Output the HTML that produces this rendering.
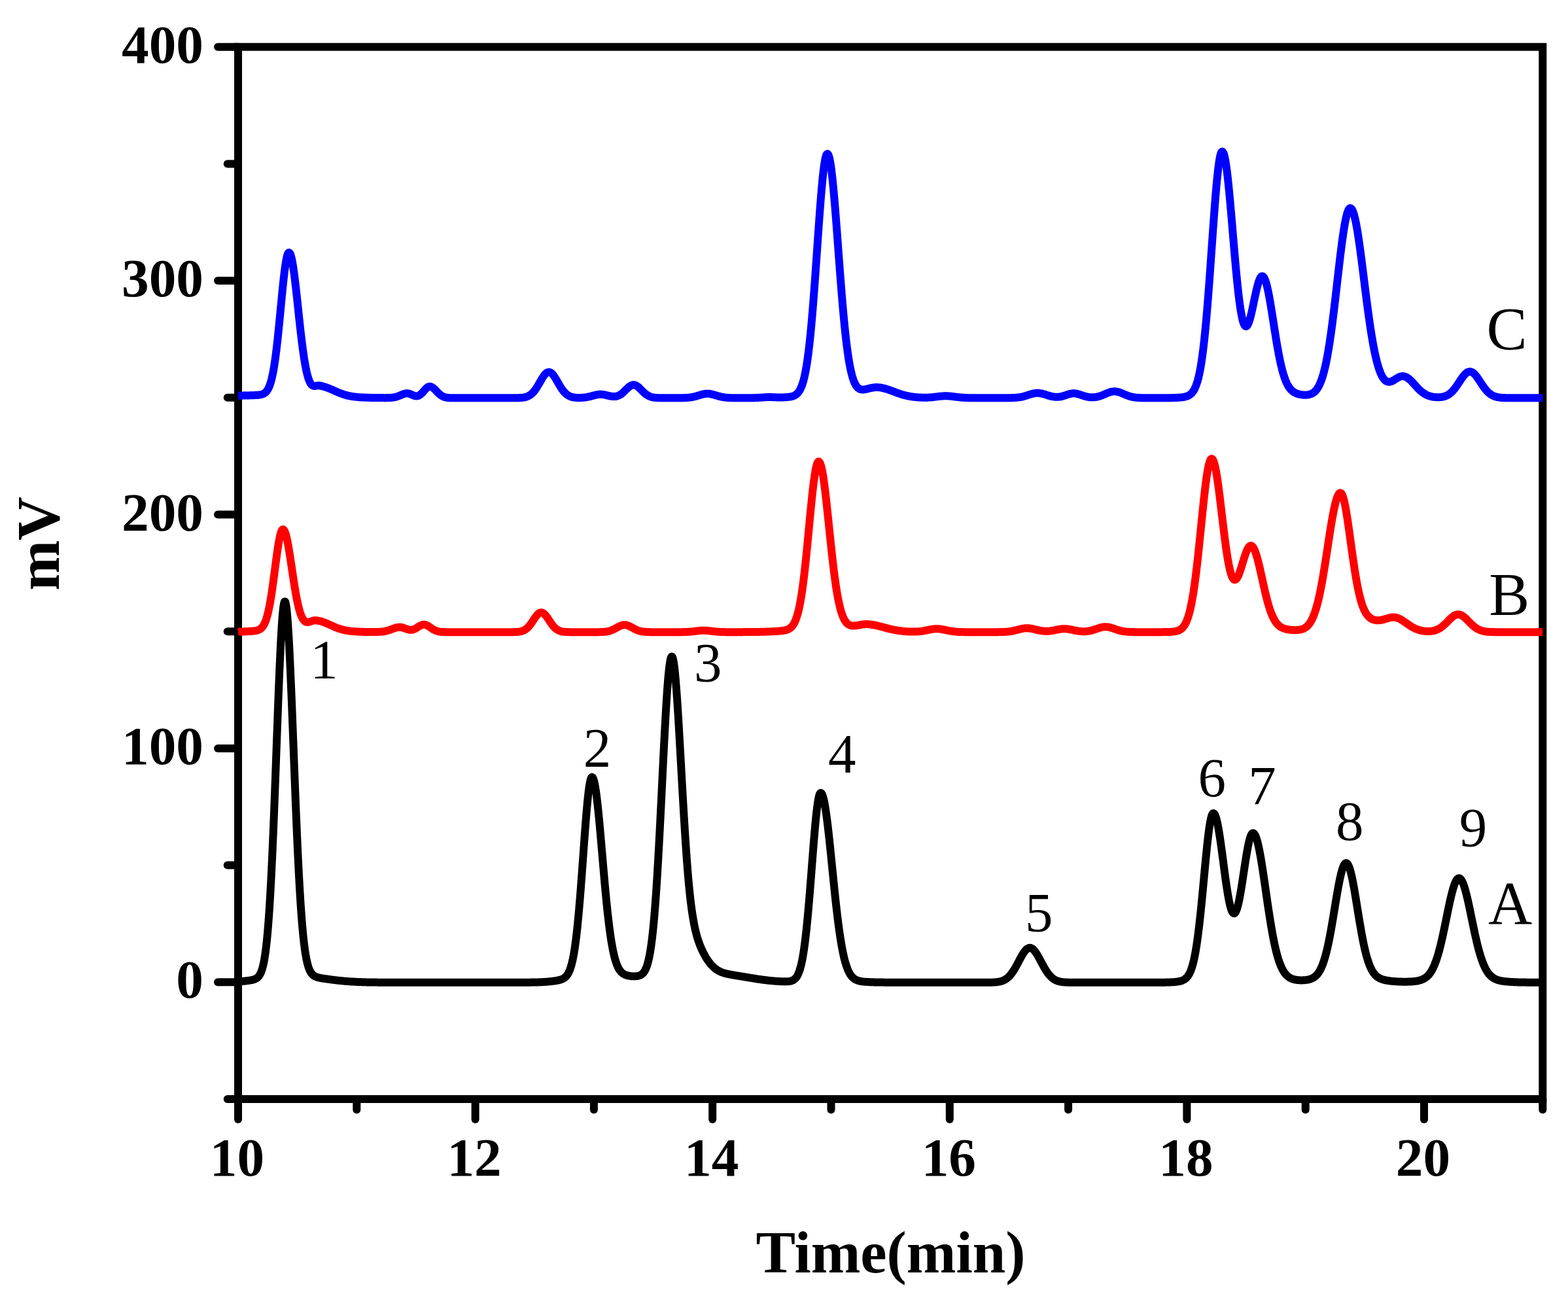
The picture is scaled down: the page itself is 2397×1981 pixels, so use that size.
<!DOCTYPE html>
<html lang="en"><head><meta charset="utf-8"><title>Chromatogram</title>
<style>html,body{margin:0;padding:0;background:#fff}body{width:2397px;height:1981px;overflow:hidden}svg{display:block}text{font-family:"Liberation Serif","Times New Roman",serif;fill:#000}.b{font-weight:bold}</style></head><body>
<svg width="2397" height="1981" viewBox="0 0 2397 1981" role="img" aria-label="Chromatogram: mV versus Time(min) for samples A, B and C">
<rect width="2397" height="1981" fill="#fff"/>
<g fill="none" stroke="#000" stroke-width="12.00">
<rect x="364.00" y="71.70" width="1994.30" height="1608.30" stroke-linejoin="miter"/>
</g>
<g fill="none" stroke="#000" stroke-width="12.00" stroke-linecap="round">
<path d="M364.00,1680.00 H347.70"/>
<path d="M364.00,1501.30 H333.00"/>
<path d="M364.00,1322.60 H347.70"/>
<path d="M364.00,1143.90 H333.00"/>
<path d="M364.00,965.20 H347.70"/>
<path d="M364.00,786.50 H333.00"/>
<path d="M364.00,607.80 H347.70"/>
<path d="M364.00,429.10 H333.00"/>
<path d="M364.00,250.40 H347.70"/>
<path d="M364.00,71.70 H333.00"/>
<path d="M364.00,1680.00 V1711.00"/>
<path d="M545.30,1680.00 V1696.30"/>
<path d="M726.60,1680.00 V1711.00"/>
<path d="M907.90,1680.00 V1696.30"/>
<path d="M1089.20,1680.00 V1711.00"/>
<path d="M1270.50,1680.00 V1696.30"/>
<path d="M1451.80,1680.00 V1711.00"/>
<path d="M1633.10,1680.00 V1696.30"/>
<path d="M1814.40,1680.00 V1711.00"/>
<path d="M1995.70,1680.00 V1696.30"/>
<path d="M2177.00,1680.00 V1711.00"/>
<path d="M2358.30,1680.00 V1696.30"/>
</g>
<g class="b" font-size="83.3" text-anchor="end">
<text x="311.0" y="1525.3">0</text>
<text x="311.0" y="1167.9">100</text>
<text x="311.0" y="810.5">200</text>
<text x="311.0" y="453.1">300</text>
<text x="311.0" y="95.7">400</text>
</g>
<g class="b" font-size="83.3" text-anchor="middle">
<text x="362.5" y="1796.5">10</text>
<text x="725.1" y="1796.5">12</text>
<text x="1087.7" y="1796.5">14</text>
<text x="1450.3" y="1796.5">16</text>
<text x="1812.9" y="1796.5">18</text>
<text x="2175.5" y="1796.5">20</text>
</g>
<text class="b" font-size="90.8" text-anchor="middle" x="1361.5" y="1945.0">Time(min)</text>
<text class="b" font-size="92.4" text-anchor="middle" transform="translate(90.2,831) rotate(-90)">mV</text>
<g fill="none" stroke-width="12.00" stroke-linejoin="round" stroke-linecap="butt">
<path stroke="#0000ff" d="M364.0,604.8 L365.0,604.8 L366.0,604.8 L367.0,604.7 L368.0,604.7 L369.0,604.7 L370.0,604.7 L371.0,604.6 L372.0,604.6 L373.0,604.6 L374.0,604.6 L375.0,604.5 L376.0,604.5 L377.0,604.5 L378.0,604.5 L379.0,604.4 L380.0,604.4 L381.0,604.4 L382.0,604.4 L383.0,604.3 L384.0,604.3 L385.0,604.3 L386.0,604.3 L387.0,604.2 L388.0,604.2 L389.0,604.1 L390.0,604.1 L391.0,604.1 L392.0,604.0 L393.0,603.9 L394.0,603.9 L395.0,603.8 L396.0,603.7 L397.0,603.5 L398.0,603.4 L399.0,603.2 L400.0,602.9 L401.0,602.6 L402.0,602.2 L403.0,601.8 L404.0,601.2 L405.0,600.5 L406.0,599.7 L407.0,598.7 L408.0,597.5 L409.0,596.0 L410.0,594.3 L411.0,592.3 L412.0,589.9 L413.0,587.1 L414.0,584.0 L415.0,580.3 L416.0,576.2 L417.0,571.5 L418.0,566.2 L419.0,560.4 L420.0,553.9 L421.0,546.8 L422.0,539.2 L423.0,530.9 L424.0,522.2 L425.0,512.9 L426.0,503.2 L427.0,493.1 L428.0,482.9 L429.0,472.4 L430.0,462.0 L431.0,451.7 L432.0,441.6 L433.0,432.0 L434.0,422.9 L435.0,414.6 L436.0,407.1 L437.0,400.5 L438.0,395.1 L439.0,390.9 L440.0,387.9 L441.0,386.3 L442.0,386.0 L443.0,386.9 L444.0,388.8 L445.0,391.9 L446.0,395.9 L447.0,400.9 L448.0,406.8 L449.0,413.5 L450.0,420.9 L451.0,428.9 L452.0,437.3 L453.0,446.2 L454.0,455.4 L455.0,464.7 L456.0,474.1 L457.0,483.5 L458.0,492.7 L459.0,501.8 L460.0,510.5 L461.0,519.0 L462.0,527.0 L463.0,534.6 L464.0,541.7 L465.0,548.3 L466.0,554.4 L467.0,560.0 L468.0,565.1 L469.0,569.6 L470.0,573.6 L471.0,577.1 L472.0,580.1 L473.0,582.6 L474.0,584.7 L475.0,586.4 L476.0,587.8 L477.0,588.7 L478.0,589.4 L479.0,589.8 L480.0,590.1 L481.0,590.1 L482.0,590.0 L483.0,589.9 L484.0,589.7 L485.0,589.5 L486.0,589.3 L487.0,589.3 L488.0,589.3 L489.0,589.5 L490.0,589.7 L491.0,590.0 L492.0,590.2 L493.0,590.5 L494.0,590.7 L495.0,591.0 L496.0,591.3 L497.0,591.6 L498.0,591.9 L499.0,592.2 L500.0,592.6 L501.0,592.9 L502.0,593.3 L503.0,593.7 L504.0,594.1 L505.0,594.5 L506.0,595.0 L507.0,595.4 L508.0,595.8 L509.0,596.3 L510.0,596.7 L511.0,597.2 L512.0,597.6 L513.0,598.1 L514.0,598.5 L515.0,599.0 L516.0,599.4 L517.0,599.8 L518.0,600.2 L519.0,600.6 L520.0,601.0 L521.0,601.4 L522.0,601.8 L523.0,602.1 L524.0,602.5 L525.0,602.8 L526.0,603.1 L527.0,603.4 L528.0,603.7 L529.0,604.0 L530.0,604.3 L531.0,604.5 L532.0,604.8 L533.0,605.0 L534.0,605.2 L535.0,605.4 L536.0,605.6 L537.0,605.8 L538.0,605.9 L539.0,606.1 L540.0,606.2 L541.0,606.4 L542.0,606.5 L543.0,606.6 L544.0,606.7 L545.0,606.8 L546.0,606.9 L547.0,607.0 L548.0,607.1 L549.0,607.2 L550.0,607.2 L551.0,607.3 L552.0,607.4 L553.0,607.4 L554.0,607.5 L555.0,607.5 L556.0,607.6 L557.0,607.6 L558.0,607.6 L559.0,607.7 L560.0,607.7 L561.0,607.7 L562.0,607.8 L563.0,607.8 L564.0,607.8 L565.0,607.9 L566.0,607.9 L567.0,607.9 L568.0,607.9 L569.0,607.9 L570.0,608.0 L571.0,608.0 L572.0,608.0 L573.0,608.0 L574.0,608.0 L575.0,608.0 L576.0,608.1 L577.0,608.1 L578.0,608.1 L579.0,608.1 L580.0,608.1 L581.0,608.1 L582.0,608.1 L583.0,608.1 L584.0,608.1 L585.0,608.1 L586.0,608.1 L587.0,608.2 L588.0,608.2 L589.0,608.2 L590.0,608.1 L591.0,608.1 L592.0,608.1 L593.0,608.1 L594.0,608.1 L595.0,608.1 L596.0,608.0 L597.0,608.0 L598.0,607.9 L599.0,607.8 L600.0,607.7 L601.0,607.6 L602.0,607.4 L603.0,607.2 L604.0,607.0 L605.0,606.8 L606.0,606.5 L607.0,606.2 L608.0,605.8 L609.0,605.5 L610.0,605.1 L611.0,604.7 L612.0,604.3 L613.0,603.9 L614.0,603.4 L615.0,603.0 L616.0,602.6 L617.0,602.3 L618.0,602.0 L619.0,601.7 L620.0,601.5 L621.0,601.4 L622.0,601.3 L623.0,601.3 L624.0,601.4 L625.0,601.6 L626.0,601.8 L627.0,602.2 L628.0,602.6 L629.0,603.1 L630.0,603.5 L631.0,604.0 L632.0,604.4 L633.0,604.8 L634.0,605.1 L635.0,605.3 L636.0,605.4 L637.0,605.4 L638.0,605.3 L639.0,605.1 L640.0,604.7 L641.0,604.2 L642.0,603.6 L643.0,602.8 L644.0,601.9 L645.0,601.0 L646.0,599.9 L647.0,598.8 L648.0,597.6 L649.0,596.5 L650.0,595.3 L651.0,594.3 L652.0,593.3 L653.0,592.4 L654.0,591.7 L655.0,591.2 L656.0,590.9 L657.0,590.8 L658.0,590.9 L659.0,591.1 L660.0,591.6 L661.0,592.1 L662.0,592.9 L663.0,593.7 L664.0,594.6 L665.0,595.6 L666.0,596.6 L667.0,597.7 L668.0,598.7 L669.0,599.8 L670.0,600.8 L671.0,601.7 L672.0,602.6 L673.0,603.4 L674.0,604.2 L675.0,604.8 L676.0,605.4 L677.0,605.9 L678.0,606.4 L679.0,606.7 L680.0,607.1 L681.0,607.3 L682.0,607.5 L683.0,607.7 L684.0,607.8 L685.0,608.0 L686.0,608.0 L687.0,608.1 L688.0,608.2 L689.0,608.2 L690.0,608.2 L691.0,608.2 L692.0,608.3 L693.0,608.3 L694.0,608.3 L695.0,608.3 L696.0,608.3 L697.0,608.3 L698.0,608.3 L699.0,608.3 L700.0,608.3 L701.0,608.3 L702.0,608.3 L703.0,608.3 L704.0,608.3 L705.0,608.3 L706.0,608.3 L707.0,608.3 L708.0,608.3 L709.0,608.3 L710.0,608.3 L711.0,608.3 L712.0,608.3 L713.0,608.3 L714.0,608.3 L715.0,608.3 L716.0,608.3 L717.0,608.3 L718.0,608.3 L719.0,608.3 L720.0,608.3 L721.0,608.3 L722.0,608.3 L723.0,608.3 L724.0,608.3 L725.0,608.3 L726.0,608.3 L727.0,608.3 L728.0,608.3 L729.0,608.3 L730.0,608.3 L731.0,608.3 L732.0,608.3 L733.0,608.3 L734.0,608.3 L735.0,608.3 L736.0,608.3 L737.0,608.3 L738.0,608.3 L739.0,608.3 L740.0,608.3 L741.0,608.3 L742.0,608.3 L743.0,608.3 L744.0,608.3 L745.0,608.3 L746.0,608.3 L747.0,608.3 L748.0,608.3 L749.0,608.3 L750.0,608.3 L751.0,608.3 L752.0,608.3 L753.0,608.3 L754.0,608.3 L755.0,608.3 L756.0,608.3 L757.0,608.3 L758.0,608.3 L759.0,608.3 L760.0,608.3 L761.0,608.3 L762.0,608.3 L763.0,608.3 L764.0,608.3 L765.0,608.3 L766.0,608.3 L767.0,608.3 L768.0,608.3 L769.0,608.3 L770.0,608.3 L771.0,608.3 L772.0,608.3 L773.0,608.3 L774.0,608.3 L775.0,608.3 L776.0,608.3 L777.0,608.3 L778.0,608.3 L779.0,608.3 L780.0,608.3 L781.0,608.3 L782.0,608.3 L783.0,608.3 L784.0,608.3 L785.0,608.3 L786.0,608.3 L787.0,608.3 L788.0,608.3 L789.0,608.2 L790.0,608.2 L791.0,608.2 L792.0,608.2 L793.0,608.2 L794.0,608.1 L795.0,608.1 L796.0,608.0 L797.0,607.9 L798.0,607.9 L799.0,607.7 L800.0,607.6 L801.0,607.5 L802.0,607.3 L803.0,607.0 L804.0,606.8 L805.0,606.5 L806.0,606.1 L807.0,605.7 L808.0,605.2 L809.0,604.7 L810.0,604.1 L811.0,603.4 L812.0,602.6 L813.0,601.8 L814.0,600.8 L815.0,599.8 L816.0,598.6 L817.0,597.4 L818.0,596.1 L819.0,594.7 L820.0,593.2 L821.0,591.6 L822.0,590.0 L823.0,588.3 L824.0,586.6 L825.0,584.9 L826.0,583.1 L827.0,581.4 L828.0,579.7 L829.0,578.0 L830.0,576.5 L831.0,575.0 L832.0,573.6 L833.0,572.4 L834.0,571.3 L835.0,570.4 L836.0,569.7 L837.0,569.2 L838.0,568.9 L839.0,568.8 L840.0,568.9 L841.0,569.2 L842.0,569.7 L843.0,570.4 L844.0,571.3 L845.0,572.4 L846.0,573.6 L847.0,575.0 L848.0,576.5 L849.0,578.0 L850.0,579.7 L851.0,581.4 L852.0,583.1 L853.0,584.9 L854.0,586.6 L855.0,588.3 L856.0,590.0 L857.0,591.6 L858.0,593.2 L859.0,594.7 L860.0,596.1 L861.0,597.4 L862.0,598.6 L863.0,599.8 L864.0,600.8 L865.0,601.8 L866.0,602.6 L867.0,603.4 L868.0,604.1 L869.0,604.7 L870.0,605.2 L871.0,605.7 L872.0,606.1 L873.0,606.5 L874.0,606.8 L875.0,607.0 L876.0,607.3 L877.0,607.4 L878.0,607.6 L879.0,607.7 L880.0,607.8 L881.0,607.9 L882.0,608.0 L883.0,608.0 L884.0,608.0 L885.0,608.0 L886.0,608.0 L887.0,608.0 L888.0,608.0 L889.0,608.0 L890.0,607.9 L891.0,607.8 L892.0,607.8 L893.0,607.7 L894.0,607.5 L895.0,607.4 L896.0,607.3 L897.0,607.1 L898.0,606.9 L899.0,606.7 L900.0,606.5 L901.0,606.3 L902.0,606.0 L903.0,605.8 L904.0,605.5 L905.0,605.2 L906.0,605.0 L907.0,604.7 L908.0,604.4 L909.0,604.1 L910.0,603.9 L911.0,603.7 L912.0,603.4 L913.0,603.3 L914.0,603.1 L915.0,603.0 L916.0,602.9 L917.0,602.8 L918.0,602.8 L919.0,602.8 L920.0,602.9 L921.0,603.0 L922.0,603.1 L923.0,603.2 L924.0,603.4 L925.0,603.6 L926.0,603.9 L927.0,604.1 L928.0,604.3 L929.0,604.6 L930.0,604.8 L931.0,605.1 L932.0,605.3 L933.0,605.5 L934.0,605.7 L935.0,605.9 L936.0,606.0 L937.0,606.1 L938.0,606.1 L939.0,606.1 L940.0,606.1 L941.0,606.0 L942.0,605.8 L943.0,605.6 L944.0,605.3 L945.0,604.9 L946.0,604.5 L947.0,604.0 L948.0,603.4 L949.0,602.8 L950.0,602.0 L951.0,601.3 L952.0,600.4 L953.0,599.5 L954.0,598.6 L955.0,597.6 L956.0,596.6 L957.0,595.6 L958.0,594.6 L959.0,593.7 L960.0,592.7 L961.0,591.8 L962.0,591.0 L963.0,590.3 L964.0,589.7 L965.0,589.1 L966.0,588.7 L967.0,588.5 L968.0,588.3 L969.0,588.3 L970.0,588.5 L971.0,588.7 L972.0,589.1 L973.0,589.7 L974.0,590.3 L975.0,591.0 L976.0,591.8 L977.0,592.7 L978.0,593.7 L979.0,594.7 L980.0,595.7 L981.0,596.7 L982.0,597.7 L983.0,598.7 L984.0,599.6 L985.0,600.5 L986.0,601.4 L987.0,602.2 L988.0,603.0 L989.0,603.7 L990.0,604.3 L991.0,604.9 L992.0,605.4 L993.0,605.8 L994.0,606.2 L995.0,606.6 L996.0,606.9 L997.0,607.1 L998.0,607.3 L999.0,607.5 L1000.0,607.7 L1001.0,607.8 L1002.0,607.9 L1003.0,608.0 L1004.0,608.0 L1005.0,608.1 L1006.0,608.1 L1007.0,608.2 L1008.0,608.2 L1009.0,608.2 L1010.0,608.2 L1011.0,608.3 L1012.0,608.3 L1013.0,608.3 L1014.0,608.3 L1015.0,608.3 L1016.0,608.3 L1017.0,608.3 L1018.0,608.3 L1019.0,608.3 L1020.0,608.3 L1021.0,608.3 L1022.0,608.3 L1023.0,608.3 L1024.0,608.3 L1025.0,608.3 L1026.0,608.3 L1027.0,608.3 L1028.0,608.3 L1029.0,608.3 L1030.0,608.3 L1031.0,608.3 L1032.0,608.3 L1033.0,608.3 L1034.0,608.3 L1035.0,608.3 L1036.0,608.3 L1037.0,608.3 L1038.0,608.3 L1039.0,608.3 L1040.0,608.3 L1041.0,608.2 L1042.0,608.2 L1043.0,608.2 L1044.0,608.2 L1045.0,608.2 L1046.0,608.1 L1047.0,608.1 L1048.0,608.1 L1049.0,608.0 L1050.0,607.9 L1051.0,607.9 L1052.0,607.8 L1053.0,607.7 L1054.0,607.6 L1055.0,607.5 L1056.0,607.3 L1057.0,607.2 L1058.0,607.0 L1059.0,606.8 L1060.0,606.6 L1061.0,606.4 L1062.0,606.2 L1063.0,605.9 L1064.0,605.6 L1065.0,605.4 L1066.0,605.1 L1067.0,604.8 L1068.0,604.5 L1069.0,604.2 L1070.0,603.9 L1071.0,603.6 L1072.0,603.3 L1073.0,603.0 L1074.0,602.8 L1075.0,602.5 L1076.0,602.3 L1077.0,602.2 L1078.0,602.0 L1079.0,601.9 L1080.0,601.8 L1081.0,601.8 L1082.0,601.8 L1083.0,601.8 L1084.0,601.9 L1085.0,602.0 L1086.0,602.2 L1087.0,602.4 L1088.0,602.6 L1089.0,602.8 L1090.0,603.1 L1091.0,603.4 L1092.0,603.6 L1093.0,603.9 L1094.0,604.2 L1095.0,604.5 L1096.0,604.8 L1097.0,605.1 L1098.0,605.4 L1099.0,605.7 L1100.0,606.0 L1101.0,606.2 L1102.0,606.4 L1103.0,606.7 L1104.0,606.9 L1105.0,607.0 L1106.0,607.2 L1107.0,607.4 L1108.0,607.5 L1109.0,607.6 L1110.0,607.7 L1111.0,607.8 L1112.0,607.9 L1113.0,608.0 L1114.0,608.0 L1115.0,608.1 L1116.0,608.1 L1117.0,608.1 L1118.0,608.2 L1119.0,608.2 L1120.0,608.2 L1121.0,608.2 L1122.0,608.2 L1123.0,608.3 L1124.0,608.3 L1125.0,608.3 L1126.0,608.3 L1127.0,608.3 L1128.0,608.3 L1129.0,608.3 L1130.0,608.3 L1131.0,608.3 L1132.0,608.3 L1133.0,608.3 L1134.0,608.3 L1135.0,608.3 L1136.0,608.3 L1137.0,608.3 L1138.0,608.3 L1139.0,608.3 L1140.0,608.3 L1141.0,608.3 L1142.0,608.3 L1143.0,608.3 L1144.0,608.3 L1145.0,608.3 L1146.0,608.3 L1147.0,608.2 L1148.0,608.2 L1149.0,608.2 L1150.0,608.2 L1151.0,608.2 L1152.0,608.2 L1153.0,608.2 L1154.0,608.1 L1155.0,608.1 L1156.0,608.1 L1157.0,608.0 L1158.0,608.0 L1159.0,607.9 L1160.0,607.9 L1161.0,607.8 L1162.0,607.8 L1163.0,607.7 L1164.0,607.6 L1165.0,607.6 L1166.0,607.5 L1167.0,607.4 L1168.0,607.4 L1169.0,607.3 L1170.0,607.2 L1171.0,607.2 L1172.0,607.1 L1173.0,607.1 L1174.0,607.1 L1175.0,607.1 L1176.0,607.1 L1177.0,607.1 L1178.0,607.1 L1179.0,607.1 L1180.0,607.1 L1181.0,607.1 L1182.0,607.2 L1183.0,607.2 L1184.0,607.2 L1185.0,607.3 L1186.0,607.3 L1187.0,607.4 L1188.0,607.4 L1189.0,607.4 L1190.0,607.4 L1191.0,607.4 L1192.0,607.4 L1193.0,607.5 L1194.0,607.4 L1195.0,607.4 L1196.0,607.4 L1197.0,607.4 L1198.0,607.4 L1199.0,607.3 L1200.0,607.3 L1201.0,607.2 L1202.0,607.2 L1203.0,607.1 L1204.0,607.0 L1205.0,606.9 L1206.0,606.8 L1207.0,606.7 L1208.0,606.5 L1209.0,606.3 L1210.0,606.1 L1211.0,605.8 L1212.0,605.6 L1213.0,605.2 L1214.0,604.8 L1215.0,604.3 L1216.0,603.7 L1217.0,603.0 L1218.0,602.3 L1219.0,601.3 L1220.0,600.2 L1221.0,599.0 L1222.0,597.5 L1223.0,595.8 L1224.0,593.8 L1225.0,591.6 L1226.0,589.0 L1227.0,586.0 L1228.0,582.7 L1229.0,579.0 L1230.0,574.7 L1231.0,570.0 L1232.0,564.7 L1233.0,558.9 L1234.0,552.5 L1235.0,545.4 L1236.0,537.7 L1237.0,529.3 L1238.0,520.3 L1239.0,510.6 L1240.0,500.2 L1241.0,489.2 L1242.0,477.5 L1243.0,465.3 L1244.0,452.5 L1245.0,439.2 L1246.0,425.6 L1247.0,411.6 L1248.0,397.4 L1249.0,383.0 L1250.0,368.6 L1251.0,354.4 L1252.0,340.3 L1253.0,326.6 L1254.0,313.5 L1255.0,300.9 L1256.0,289.1 L1257.0,278.2 L1258.0,268.3 L1259.0,259.5 L1260.0,251.9 L1261.0,245.7 L1262.0,240.8 L1263.0,237.4 L1264.0,235.5 L1265.0,235.0 L1266.0,236.0 L1267.0,238.3 L1268.0,241.8 L1269.0,246.7 L1270.0,252.7 L1271.0,259.9 L1272.0,268.2 L1273.0,277.5 L1274.0,287.6 L1275.0,298.6 L1276.0,310.2 L1277.0,322.4 L1278.0,335.1 L1279.0,348.1 L1280.0,361.4 L1281.0,374.8 L1282.0,388.2 L1283.0,401.6 L1284.0,414.8 L1285.0,427.8 L1286.0,440.5 L1287.0,452.8 L1288.0,464.6 L1289.0,476.0 L1290.0,486.9 L1291.0,497.2 L1292.0,506.9 L1293.0,516.0 L1294.0,524.5 L1295.0,532.4 L1296.0,539.8 L1297.0,546.5 L1298.0,552.7 L1299.0,558.3 L1300.0,563.4 L1301.0,567.9 L1302.0,572.0 L1303.0,575.7 L1304.0,578.9 L1305.0,581.8 L1306.0,584.3 L1307.0,586.4 L1308.0,588.3 L1309.0,589.9 L1310.0,591.2 L1311.0,592.3 L1312.0,593.2 L1313.0,593.9 L1314.0,594.5 L1315.0,594.9 L1316.0,595.2 L1317.0,595.4 L1318.0,595.5 L1319.0,595.6 L1320.0,595.5 L1321.0,595.4 L1322.0,595.3 L1323.0,595.1 L1324.0,594.9 L1325.0,594.7 L1326.0,594.4 L1327.0,594.2 L1328.0,593.9 L1329.0,593.7 L1330.0,593.4 L1331.0,593.2 L1332.0,593.0 L1333.0,592.8 L1334.0,592.6 L1335.0,592.4 L1336.0,592.3 L1337.0,592.2 L1338.0,592.1 L1339.0,592.0 L1340.0,592.0 L1341.0,592.0 L1342.0,592.1 L1343.0,592.2 L1344.0,592.3 L1345.0,592.4 L1346.0,592.5 L1347.0,592.7 L1348.0,592.9 L1349.0,593.1 L1350.0,593.3 L1351.0,593.5 L1352.0,593.8 L1353.0,594.0 L1354.0,594.3 L1355.0,594.6 L1356.0,594.9 L1357.0,595.2 L1358.0,595.6 L1359.0,595.9 L1360.0,596.3 L1361.0,596.6 L1362.0,597.0 L1363.0,597.4 L1364.0,597.8 L1365.0,598.1 L1366.0,598.5 L1367.0,598.9 L1368.0,599.3 L1369.0,599.6 L1370.0,600.0 L1371.0,600.4 L1372.0,600.7 L1373.0,601.1 L1374.0,601.4 L1375.0,601.8 L1376.0,602.1 L1377.0,602.4 L1378.0,602.7 L1379.0,603.1 L1380.0,603.4 L1381.0,603.6 L1382.0,603.9 L1383.0,604.2 L1384.0,604.4 L1385.0,604.7 L1386.0,604.9 L1387.0,605.1 L1388.0,605.3 L1389.0,605.5 L1390.0,605.7 L1391.0,605.9 L1392.0,606.1 L1393.0,606.3 L1394.0,606.4 L1395.0,606.5 L1396.0,606.7 L1397.0,606.8 L1398.0,606.9 L1399.0,607.0 L1400.0,607.1 L1401.0,607.2 L1402.0,607.3 L1403.0,607.4 L1404.0,607.4 L1405.0,607.5 L1406.0,607.6 L1407.0,607.6 L1408.0,607.6 L1409.0,607.7 L1410.0,607.7 L1411.0,607.7 L1412.0,607.7 L1413.0,607.7 L1414.0,607.7 L1415.0,607.7 L1416.0,607.7 L1417.0,607.7 L1418.0,607.7 L1419.0,607.6 L1420.0,607.6 L1421.0,607.5 L1422.0,607.4 L1423.0,607.4 L1424.0,607.3 L1425.0,607.2 L1426.0,607.1 L1427.0,607.0 L1428.0,606.9 L1429.0,606.7 L1430.0,606.6 L1431.0,606.5 L1432.0,606.4 L1433.0,606.3 L1434.0,606.1 L1435.0,606.0 L1436.0,605.9 L1437.0,605.8 L1438.0,605.7 L1439.0,605.6 L1440.0,605.5 L1441.0,605.4 L1442.0,605.4 L1443.0,605.3 L1444.0,605.3 L1445.0,605.3 L1446.0,605.3 L1447.0,605.3 L1448.0,605.3 L1449.0,605.4 L1450.0,605.4 L1451.0,605.5 L1452.0,605.6 L1453.0,605.7 L1454.0,605.8 L1455.0,605.9 L1456.0,606.0 L1457.0,606.1 L1458.0,606.3 L1459.0,606.4 L1460.0,606.5 L1461.0,606.6 L1462.0,606.8 L1463.0,606.9 L1464.0,607.0 L1465.0,607.1 L1466.0,607.2 L1467.0,607.4 L1468.0,607.5 L1469.0,607.5 L1470.0,607.6 L1471.0,607.7 L1472.0,607.8 L1473.0,607.8 L1474.0,607.9 L1475.0,608.0 L1476.0,608.0 L1477.0,608.1 L1478.0,608.1 L1479.0,608.1 L1480.0,608.1 L1481.0,608.2 L1482.0,608.2 L1483.0,608.2 L1484.0,608.2 L1485.0,608.2 L1486.0,608.3 L1487.0,608.3 L1488.0,608.3 L1489.0,608.3 L1490.0,608.3 L1491.0,608.3 L1492.0,608.3 L1493.0,608.3 L1494.0,608.3 L1495.0,608.3 L1496.0,608.3 L1497.0,608.3 L1498.0,608.3 L1499.0,608.3 L1500.0,608.3 L1501.0,608.3 L1502.0,608.3 L1503.0,608.3 L1504.0,608.3 L1505.0,608.3 L1506.0,608.3 L1507.0,608.3 L1508.0,608.3 L1509.0,608.3 L1510.0,608.3 L1511.0,608.3 L1512.0,608.3 L1513.0,608.3 L1514.0,608.3 L1515.0,608.3 L1516.0,608.3 L1517.0,608.3 L1518.0,608.3 L1519.0,608.3 L1520.0,608.3 L1521.0,608.3 L1522.0,608.3 L1523.0,608.3 L1524.0,608.3 L1525.0,608.3 L1526.0,608.3 L1527.0,608.3 L1528.0,608.3 L1529.0,608.3 L1530.0,608.3 L1531.0,608.3 L1532.0,608.3 L1533.0,608.3 L1534.0,608.3 L1535.0,608.3 L1536.0,608.3 L1537.0,608.3 L1538.0,608.3 L1539.0,608.3 L1540.0,608.3 L1541.0,608.3 L1542.0,608.2 L1543.0,608.2 L1544.0,608.2 L1545.0,608.2 L1546.0,608.2 L1547.0,608.1 L1548.0,608.1 L1549.0,608.1 L1550.0,608.0 L1551.0,608.0 L1552.0,607.9 L1553.0,607.8 L1554.0,607.7 L1555.0,607.7 L1556.0,607.5 L1557.0,607.4 L1558.0,607.3 L1559.0,607.1 L1560.0,607.0 L1561.0,606.8 L1562.0,606.6 L1563.0,606.4 L1564.0,606.1 L1565.0,605.9 L1566.0,605.6 L1567.0,605.3 L1568.0,605.0 L1569.0,604.7 L1570.0,604.4 L1571.0,604.1 L1572.0,603.8 L1573.0,603.4 L1574.0,603.1 L1575.0,602.8 L1576.0,602.5 L1577.0,602.2 L1578.0,601.9 L1579.0,601.7 L1580.0,601.5 L1581.0,601.3 L1582.0,601.1 L1583.0,601.0 L1584.0,600.9 L1585.0,600.8 L1586.0,600.8 L1587.0,600.8 L1588.0,600.9 L1589.0,601.0 L1590.0,601.1 L1591.0,601.3 L1592.0,601.5 L1593.0,601.7 L1594.0,601.9 L1595.0,602.2 L1596.0,602.5 L1597.0,602.8 L1598.0,603.1 L1599.0,603.4 L1600.0,603.7 L1601.0,604.1 L1602.0,604.4 L1603.0,604.7 L1604.0,605.0 L1605.0,605.2 L1606.0,605.5 L1607.0,605.8 L1608.0,606.0 L1609.0,606.2 L1610.0,606.4 L1611.0,606.5 L1612.0,606.6 L1613.0,606.7 L1614.0,606.8 L1615.0,606.8 L1616.0,606.8 L1617.0,606.8 L1618.0,606.7 L1619.0,606.6 L1620.0,606.5 L1621.0,606.3 L1622.0,606.2 L1623.0,605.9 L1624.0,605.7 L1625.0,605.4 L1626.0,605.1 L1627.0,604.8 L1628.0,604.5 L1629.0,604.2 L1630.0,603.8 L1631.0,603.5 L1632.0,603.1 L1633.0,602.8 L1634.0,602.5 L1635.0,602.2 L1636.0,602.0 L1637.0,601.8 L1638.0,601.6 L1639.0,601.4 L1640.0,601.3 L1641.0,601.3 L1642.0,601.3 L1643.0,601.4 L1644.0,601.4 L1645.0,601.6 L1646.0,601.8 L1647.0,602.0 L1648.0,602.3 L1649.0,602.5 L1650.0,602.8 L1651.0,603.2 L1652.0,603.5 L1653.0,603.9 L1654.0,604.2 L1655.0,604.6 L1656.0,604.9 L1657.0,605.2 L1658.0,605.5 L1659.0,605.8 L1660.0,606.1 L1661.0,606.3 L1662.0,606.6 L1663.0,606.7 L1664.0,606.9 L1665.0,607.1 L1666.0,607.2 L1667.0,607.2 L1668.0,607.3 L1669.0,607.3 L1670.0,607.3 L1671.0,607.3 L1672.0,607.3 L1673.0,607.2 L1674.0,607.1 L1675.0,606.9 L1676.0,606.8 L1677.0,606.6 L1678.0,606.4 L1679.0,606.1 L1680.0,605.9 L1681.0,605.6 L1682.0,605.3 L1683.0,604.9 L1684.0,604.6 L1685.0,604.2 L1686.0,603.8 L1687.0,603.4 L1688.0,603.0 L1689.0,602.5 L1690.0,602.1 L1691.0,601.7 L1692.0,601.2 L1693.0,600.8 L1694.0,600.4 L1695.0,600.1 L1696.0,599.7 L1697.0,599.4 L1698.0,599.1 L1699.0,598.8 L1700.0,598.6 L1701.0,598.5 L1702.0,598.4 L1703.0,598.3 L1704.0,598.3 L1705.0,598.3 L1706.0,598.4 L1707.0,598.6 L1708.0,598.8 L1709.0,599.0 L1710.0,599.3 L1711.0,599.6 L1712.0,599.9 L1713.0,600.3 L1714.0,600.7 L1715.0,601.1 L1716.0,601.5 L1717.0,601.9 L1718.0,602.4 L1719.0,602.8 L1720.0,603.2 L1721.0,603.6 L1722.0,604.0 L1723.0,604.4 L1724.0,604.8 L1725.0,605.2 L1726.0,605.5 L1727.0,605.8 L1728.0,606.1 L1729.0,606.3 L1730.0,606.6 L1731.0,606.8 L1732.0,607.0 L1733.0,607.2 L1734.0,607.3 L1735.0,607.5 L1736.0,607.6 L1737.0,607.7 L1738.0,607.8 L1739.0,607.9 L1740.0,608.0 L1741.0,608.0 L1742.0,608.1 L1743.0,608.1 L1744.0,608.1 L1745.0,608.2 L1746.0,608.2 L1747.0,608.2 L1748.0,608.2 L1749.0,608.2 L1750.0,608.3 L1751.0,608.3 L1752.0,608.3 L1753.0,608.3 L1754.0,608.3 L1755.0,608.3 L1756.0,608.3 L1757.0,608.3 L1758.0,608.3 L1759.0,608.3 L1760.0,608.3 L1761.0,608.3 L1762.0,608.3 L1763.0,608.3 L1764.0,608.3 L1765.0,608.3 L1766.0,608.3 L1767.0,608.3 L1768.0,608.3 L1769.0,608.3 L1770.0,608.3 L1771.0,608.3 L1772.0,608.3 L1773.0,608.3 L1774.0,608.3 L1775.0,608.3 L1776.0,608.3 L1777.0,608.3 L1778.0,608.3 L1779.0,608.3 L1780.0,608.3 L1781.0,608.3 L1782.0,608.2 L1783.0,608.2 L1784.0,608.2 L1785.0,608.2 L1786.0,608.2 L1787.0,608.2 L1788.0,608.2 L1789.0,608.2 L1790.0,608.2 L1791.0,608.1 L1792.0,608.1 L1793.0,608.1 L1794.0,608.1 L1795.0,608.0 L1796.0,608.0 L1797.0,608.0 L1798.0,607.9 L1799.0,607.9 L1800.0,607.8 L1801.0,607.8 L1802.0,607.7 L1803.0,607.7 L1804.0,607.6 L1805.0,607.5 L1806.0,607.4 L1807.0,607.3 L1808.0,607.2 L1809.0,607.0 L1810.0,606.8 L1811.0,606.6 L1812.0,606.4 L1813.0,606.1 L1814.0,605.8 L1815.0,605.5 L1816.0,605.1 L1817.0,604.6 L1818.0,604.0 L1819.0,603.3 L1820.0,602.6 L1821.0,601.7 L1822.0,600.7 L1823.0,599.5 L1824.0,598.1 L1825.0,596.6 L1826.0,594.8 L1827.0,592.7 L1828.0,590.4 L1829.0,587.7 L1830.0,584.7 L1831.0,581.4 L1832.0,577.6 L1833.0,573.3 L1834.0,568.6 L1835.0,563.3 L1836.0,557.5 L1837.0,551.1 L1838.0,544.1 L1839.0,536.5 L1840.0,528.2 L1841.0,519.3 L1842.0,509.8 L1843.0,499.6 L1844.0,488.7 L1845.0,477.3 L1846.0,465.2 L1847.0,452.7 L1848.0,439.6 L1849.0,426.2 L1850.0,412.4 L1851.0,398.4 L1852.0,384.2 L1853.0,370.0 L1854.0,355.8 L1855.0,341.9 L1856.0,328.2 L1857.0,315.0 L1858.0,302.3 L1859.0,290.4 L1860.0,279.3 L1861.0,269.1 L1862.0,259.9 L1863.0,251.9 L1864.0,245.1 L1865.0,239.7 L1866.0,235.6 L1867.0,232.9 L1868.0,231.7 L1869.0,231.8 L1870.0,233.1 L1871.0,235.6 L1872.0,239.3 L1873.0,244.1 L1874.0,249.9 L1875.0,256.7 L1876.0,264.5 L1877.0,273.1 L1878.0,282.5 L1879.0,292.5 L1880.0,303.1 L1881.0,314.2 L1882.0,325.6 L1883.0,337.2 L1884.0,349.1 L1885.0,360.9 L1886.0,372.7 L1887.0,384.4 L1888.0,395.8 L1889.0,407.0 L1890.0,417.7 L1891.0,427.9 L1892.0,437.6 L1893.0,446.8 L1894.0,455.2 L1895.0,463.0 L1896.0,470.1 L1897.0,476.4 L1898.0,482.0 L1899.0,486.7 L1900.0,490.7 L1901.0,493.9 L1902.0,496.3 L1903.0,497.9 L1904.0,498.8 L1905.0,498.9 L1906.0,498.4 L1907.0,497.2 L1908.0,495.4 L1909.0,493.0 L1910.0,490.1 L1911.0,486.7 L1912.0,483.0 L1913.0,478.9 L1914.0,474.5 L1915.0,469.9 L1916.0,465.2 L1917.0,460.4 L1918.0,455.7 L1919.0,451.0 L1920.0,446.5 L1921.0,442.2 L1922.0,438.1 L1923.0,434.4 L1924.0,431.1 L1925.0,428.3 L1926.0,426.0 L1927.0,424.1 L1928.0,422.9 L1929.0,422.2 L1930.0,422.2 L1931.0,422.7 L1932.0,423.9 L1933.0,425.6 L1934.0,427.9 L1935.0,430.7 L1936.0,434.1 L1937.0,438.0 L1938.0,442.3 L1939.0,447.1 L1940.0,452.2 L1941.0,457.7 L1942.0,463.4 L1943.0,469.4 L1944.0,475.6 L1945.0,481.9 L1946.0,488.2 L1947.0,494.6 L1948.0,501.0 L1949.0,507.4 L1950.0,513.6 L1951.0,519.7 L1952.0,525.7 L1953.0,531.4 L1954.0,537.0 L1955.0,542.3 L1956.0,547.4 L1957.0,552.2 L1958.0,556.7 L1959.0,561.0 L1960.0,565.0 L1961.0,568.7 L1962.0,572.1 L1963.0,575.3 L1964.0,578.2 L1965.0,580.9 L1966.0,583.4 L1967.0,585.6 L1968.0,587.6 L1969.0,589.5 L1970.0,591.1 L1971.0,592.6 L1972.0,593.9 L1973.0,595.1 L1974.0,596.2 L1975.0,597.1 L1976.0,598.0 L1977.0,598.7 L1978.0,599.4 L1979.0,600.0 L1980.0,600.5 L1981.0,601.0 L1982.0,601.4 L1983.0,601.8 L1984.0,602.1 L1985.0,602.4 L1986.0,602.6 L1987.0,602.9 L1988.0,603.1 L1989.0,603.2 L1990.0,603.4 L1991.0,603.5 L1992.0,603.6 L1993.0,603.7 L1994.0,603.7 L1995.0,603.7 L1996.0,603.7 L1997.0,603.7 L1998.0,603.6 L1999.0,603.5 L2000.0,603.4 L2001.0,603.2 L2002.0,602.9 L2003.0,602.6 L2004.0,602.3 L2005.0,601.9 L2006.0,601.4 L2007.0,600.8 L2008.0,600.1 L2009.0,599.3 L2010.0,598.5 L2011.0,597.5 L2012.0,596.3 L2013.0,595.1 L2014.0,593.6 L2015.0,592.0 L2016.0,590.3 L2017.0,588.3 L2018.0,586.1 L2019.0,583.7 L2020.0,581.1 L2021.0,578.2 L2022.0,575.1 L2023.0,571.7 L2024.0,568.0 L2025.0,564.1 L2026.0,559.8 L2027.0,555.2 L2028.0,550.3 L2029.0,545.1 L2030.0,539.5 L2031.0,533.6 L2032.0,527.4 L2033.0,520.9 L2034.0,514.1 L2035.0,507.0 L2036.0,499.6 L2037.0,492.0 L2038.0,484.1 L2039.0,475.9 L2040.0,467.6 L2041.0,459.1 L2042.0,450.6 L2043.0,441.9 L2044.0,433.1 L2045.0,424.4 L2046.0,415.7 L2047.0,407.1 L2048.0,398.6 L2049.0,390.3 L2050.0,382.2 L2051.0,374.4 L2052.0,366.9 L2053.0,359.8 L2054.0,353.1 L2055.0,346.9 L2056.0,341.2 L2057.0,336.1 L2058.0,331.6 L2059.0,327.6 L2060.0,324.3 L2061.0,321.7 L2062.0,319.8 L2063.0,318.6 L2064.0,318.1 L2065.0,318.3 L2066.0,319.1 L2067.0,320.5 L2068.0,322.5 L2069.0,325.2 L2070.0,328.4 L2071.0,332.3 L2072.0,336.6 L2073.0,341.5 L2074.0,346.8 L2075.0,352.6 L2076.0,358.8 L2077.0,365.4 L2078.0,372.3 L2079.0,379.5 L2080.0,386.9 L2081.0,394.5 L2082.0,402.3 L2083.0,410.2 L2084.0,418.2 L2085.0,426.2 L2086.0,434.2 L2087.0,442.2 L2088.0,450.1 L2089.0,457.9 L2090.0,465.6 L2091.0,473.1 L2092.0,480.5 L2093.0,487.6 L2094.0,494.6 L2095.0,501.3 L2096.0,507.8 L2097.0,514.0 L2098.0,519.9 L2099.0,525.5 L2100.0,530.9 L2101.0,536.0 L2102.0,540.8 L2103.0,545.3 L2104.0,549.5 L2105.0,553.5 L2106.0,557.1 L2107.0,560.5 L2108.0,563.7 L2109.0,566.5 L2110.0,569.1 L2111.0,571.5 L2112.0,573.6 L2113.0,575.5 L2114.0,577.2 L2115.0,578.6 L2116.0,579.9 L2117.0,580.9 L2118.0,581.8 L2119.0,582.5 L2120.0,583.0 L2121.0,583.4 L2122.0,583.6 L2123.0,583.7 L2124.0,583.7 L2125.0,583.6 L2126.0,583.3 L2127.0,583.0 L2128.0,582.6 L2129.0,582.1 L2130.0,581.5 L2131.0,580.9 L2132.0,580.3 L2133.0,579.7 L2134.0,579.1 L2135.0,578.4 L2136.0,577.8 L2137.0,577.3 L2138.0,576.7 L2139.0,576.3 L2140.0,575.8 L2141.0,575.5 L2142.0,575.2 L2143.0,575.1 L2144.0,575.0 L2145.0,575.0 L2146.0,575.1 L2147.0,575.4 L2148.0,575.7 L2149.0,576.1 L2150.0,576.5 L2151.0,577.1 L2152.0,577.8 L2153.0,578.5 L2154.0,579.3 L2155.0,580.2 L2156.0,581.1 L2157.0,582.0 L2158.0,583.1 L2159.0,584.1 L2160.0,585.2 L2161.0,586.3 L2162.0,587.4 L2163.0,588.5 L2164.0,589.6 L2165.0,590.7 L2166.0,591.8 L2167.0,592.9 L2168.0,593.9 L2169.0,594.9 L2170.0,595.9 L2171.0,596.8 L2172.0,597.7 L2173.0,598.6 L2174.0,599.4 L2175.0,600.1 L2176.0,600.9 L2177.0,601.5 L2178.0,602.2 L2179.0,602.7 L2180.0,603.3 L2181.0,603.8 L2182.0,604.2 L2183.0,604.6 L2184.0,605.0 L2185.0,605.3 L2186.0,605.6 L2187.0,605.9 L2188.0,606.1 L2189.0,606.4 L2190.0,606.6 L2191.0,606.7 L2192.0,606.9 L2193.0,607.0 L2194.0,607.1 L2195.0,607.1 L2196.0,607.2 L2197.0,607.2 L2198.0,607.2 L2199.0,607.2 L2200.0,607.2 L2201.0,607.1 L2202.0,607.1 L2203.0,607.0 L2204.0,606.8 L2205.0,606.7 L2206.0,606.5 L2207.0,606.2 L2208.0,606.0 L2209.0,605.6 L2210.0,605.3 L2211.0,604.9 L2212.0,604.4 L2213.0,603.9 L2214.0,603.3 L2215.0,602.7 L2216.0,601.9 L2217.0,601.2 L2218.0,600.3 L2219.0,599.4 L2220.0,598.4 L2221.0,597.4 L2222.0,596.2 L2223.0,595.0 L2224.0,593.8 L2225.0,592.5 L2226.0,591.1 L2227.0,589.7 L2228.0,588.2 L2229.0,586.7 L2230.0,585.2 L2231.0,583.7 L2232.0,582.2 L2233.0,580.7 L2234.0,579.2 L2235.0,577.7 L2236.0,576.4 L2237.0,575.0 L2238.0,573.8 L2239.0,572.6 L2240.0,571.6 L2241.0,570.7 L2242.0,569.8 L2243.0,569.2 L2244.0,568.7 L2245.0,568.3 L2246.0,568.1 L2247.0,568.0 L2248.0,568.1 L2249.0,568.3 L2250.0,568.7 L2251.0,569.3 L2252.0,570.0 L2253.0,570.8 L2254.0,571.7 L2255.0,572.8 L2256.0,574.0 L2257.0,575.2 L2258.0,576.6 L2259.0,578.0 L2260.0,579.4 L2261.0,580.9 L2262.0,582.4 L2263.0,584.0 L2264.0,585.5 L2265.0,587.0 L2266.0,588.5 L2267.0,589.9 L2268.0,591.4 L2269.0,592.7 L2270.0,594.0 L2271.0,595.3 L2272.0,596.5 L2273.0,597.6 L2274.0,598.7 L2275.0,599.6 L2276.0,600.6 L2277.0,601.4 L2278.0,602.2 L2279.0,602.9 L2280.0,603.5 L2281.0,604.1 L2282.0,604.7 L2283.0,605.1 L2284.0,605.5 L2285.0,605.9 L2286.0,606.3 L2287.0,606.5 L2288.0,606.8 L2289.0,607.0 L2290.0,607.2 L2291.0,607.4 L2292.0,607.5 L2293.0,607.7 L2294.0,607.8 L2295.0,607.9 L2296.0,607.9 L2297.0,608.0 L2298.0,608.1 L2299.0,608.1 L2300.0,608.1 L2301.0,608.2 L2302.0,608.2 L2303.0,608.2 L2304.0,608.2 L2305.0,608.2 L2306.0,608.3 L2307.0,608.3 L2308.0,608.3 L2309.0,608.3 L2310.0,608.3 L2311.0,608.3 L2312.0,608.3 L2313.0,608.3 L2314.0,608.3 L2315.0,608.3 L2316.0,608.3 L2317.0,608.3 L2318.0,608.3 L2319.0,608.3 L2320.0,608.3 L2321.0,608.3 L2322.0,608.3 L2323.0,608.3 L2324.0,608.3 L2325.0,608.3 L2326.0,608.3 L2327.0,608.3 L2328.0,608.3 L2329.0,608.3 L2330.0,608.3 L2331.0,608.3 L2332.0,608.3 L2333.0,608.3 L2334.0,608.3 L2335.0,608.3 L2336.0,608.3 L2337.0,608.3 L2338.0,608.3 L2339.0,608.3 L2340.0,608.3 L2341.0,608.3 L2342.0,608.3 L2343.0,608.3 L2344.0,608.3 L2345.0,608.3 L2346.0,608.3 L2347.0,608.3 L2348.0,608.3 L2349.0,608.3 L2350.0,608.3 L2351.0,608.3 L2352.0,608.3 L2353.0,608.3 L2354.0,608.3 L2355.0,608.3 L2356.0,608.3 L2357.0,608.3 L2358.3,608.3"/>
<path stroke="#ff0000" d="M364.0,965.7 L365.0,965.6 L366.0,965.6 L367.0,965.6 L368.0,965.5 L369.0,965.5 L370.0,965.5 L371.0,965.4 L372.0,965.4 L373.0,965.4 L374.0,965.3 L375.0,965.3 L376.0,965.3 L377.0,965.2 L378.0,965.2 L379.0,965.1 L380.0,965.1 L381.0,965.0 L382.0,965.0 L383.0,964.9 L384.0,964.9 L385.0,964.8 L386.0,964.7 L387.0,964.6 L388.0,964.5 L389.0,964.4 L390.0,964.3 L391.0,964.1 L392.0,963.9 L393.0,963.6 L394.0,963.3 L395.0,963.0 L396.0,962.5 L397.0,962.0 L398.0,961.4 L399.0,960.6 L400.0,959.6 L401.0,958.5 L402.0,957.2 L403.0,955.6 L404.0,953.8 L405.0,951.7 L406.0,949.2 L407.0,946.4 L408.0,943.2 L409.0,939.6 L410.0,935.5 L411.0,931.0 L412.0,926.0 L413.0,920.6 L414.0,914.7 L415.0,908.4 L416.0,901.7 L417.0,894.7 L418.0,887.4 L419.0,879.9 L420.0,872.3 L421.0,864.6 L422.0,857.0 L423.0,849.6 L424.0,842.5 L425.0,835.8 L426.0,829.7 L427.0,824.2 L428.0,819.4 L429.0,815.5 L430.0,812.4 L431.0,810.4 L432.0,809.3 L433.0,809.3 L434.0,810.1 L435.0,811.7 L436.0,814.1 L437.0,817.2 L438.0,821.0 L439.0,825.4 L440.0,830.4 L441.0,835.9 L442.0,841.8 L443.0,848.1 L444.0,854.5 L445.0,861.2 L446.0,867.9 L447.0,874.7 L448.0,881.4 L449.0,887.9 L450.0,894.3 L451.0,900.4 L452.0,906.3 L453.0,911.8 L454.0,917.0 L455.0,921.8 L456.0,926.2 L457.0,930.2 L458.0,933.8 L459.0,937.0 L460.0,939.8 L461.0,942.3 L462.0,944.4 L463.0,946.1 L464.0,947.6 L465.0,948.7 L466.0,949.6 L467.0,950.3 L468.0,950.7 L469.0,950.9 L470.0,951.0 L471.0,950.9 L472.0,950.8 L473.0,950.5 L474.0,950.2 L475.0,949.9 L476.0,949.5 L477.0,949.2 L478.0,948.9 L479.0,948.6 L480.0,948.4 L481.0,948.3 L482.0,948.3 L483.0,948.3 L484.0,948.4 L485.0,948.5 L486.0,948.7 L487.0,948.9 L488.0,949.1 L489.0,949.3 L490.0,949.5 L491.0,949.8 L492.0,950.1 L493.0,950.4 L494.0,950.7 L495.0,951.1 L496.0,951.5 L497.0,951.9 L498.0,952.3 L499.0,952.7 L500.0,953.1 L501.0,953.6 L502.0,954.0 L503.0,954.5 L504.0,954.9 L505.0,955.4 L506.0,955.8 L507.0,956.3 L508.0,956.7 L509.0,957.2 L510.0,957.6 L511.0,958.1 L512.0,958.5 L513.0,958.9 L514.0,959.3 L515.0,959.7 L516.0,960.1 L517.0,960.4 L518.0,960.8 L519.0,961.1 L520.0,961.4 L521.0,961.7 L522.0,962.0 L523.0,962.3 L524.0,962.6 L525.0,962.8 L526.0,963.0 L527.0,963.3 L528.0,963.5 L529.0,963.7 L530.0,963.9 L531.0,964.0 L532.0,964.2 L533.0,964.3 L534.0,964.5 L535.0,964.6 L536.0,964.7 L537.0,964.8 L538.0,964.9 L539.0,965.0 L540.0,965.1 L541.0,965.2 L542.0,965.3 L543.0,965.3 L544.0,965.4 L545.0,965.5 L546.0,965.5 L547.0,965.6 L548.0,965.6 L549.0,965.6 L550.0,965.7 L551.0,965.7 L552.0,965.7 L553.0,965.8 L554.0,965.8 L555.0,965.8 L556.0,965.9 L557.0,965.9 L558.0,965.9 L559.0,965.9 L560.0,965.9 L561.0,965.9 L562.0,966.0 L563.0,966.0 L564.0,966.0 L565.0,966.0 L566.0,966.0 L567.0,966.0 L568.0,966.0 L569.0,966.0 L570.0,966.0 L571.0,966.0 L572.0,966.0 L573.0,966.0 L574.0,966.0 L575.0,966.0 L576.0,966.0 L577.0,966.0 L578.0,965.9 L579.0,965.9 L580.0,965.8 L581.0,965.8 L582.0,965.7 L583.0,965.6 L584.0,965.5 L585.0,965.4 L586.0,965.3 L587.0,965.1 L588.0,965.0 L589.0,964.8 L590.0,964.5 L591.0,964.3 L592.0,964.0 L593.0,963.7 L594.0,963.4 L595.0,963.1 L596.0,962.7 L597.0,962.4 L598.0,962.0 L599.0,961.6 L600.0,961.2 L601.0,960.9 L602.0,960.5 L603.0,960.2 L604.0,959.9 L605.0,959.6 L606.0,959.3 L607.0,959.1 L608.0,958.9 L609.0,958.8 L610.0,958.7 L611.0,958.7 L612.0,958.7 L613.0,958.8 L614.0,959.0 L615.0,959.2 L616.0,959.5 L617.0,959.8 L618.0,960.2 L619.0,960.6 L620.0,961.0 L621.0,961.3 L622.0,961.7 L623.0,962.0 L624.0,962.3 L625.0,962.6 L626.0,962.7 L627.0,962.8 L628.0,962.9 L629.0,962.8 L630.0,962.7 L631.0,962.5 L632.0,962.2 L633.0,961.8 L634.0,961.3 L635.0,960.8 L636.0,960.3 L637.0,959.7 L638.0,959.0 L639.0,958.4 L640.0,957.7 L641.0,957.1 L642.0,956.5 L643.0,956.0 L644.0,955.6 L645.0,955.2 L646.0,954.9 L647.0,954.7 L648.0,954.7 L649.0,954.8 L650.0,954.9 L651.0,955.2 L652.0,955.6 L653.0,956.0 L654.0,956.6 L655.0,957.2 L656.0,957.8 L657.0,958.5 L658.0,959.2 L659.0,959.9 L660.0,960.6 L661.0,961.3 L662.0,961.9 L663.0,962.5 L664.0,963.0 L665.0,963.5 L666.0,963.9 L667.0,964.3 L668.0,964.6 L669.0,964.9 L670.0,965.2 L671.0,965.4 L672.0,965.6 L673.0,965.7 L674.0,965.8 L675.0,965.9 L676.0,966.0 L677.0,966.0 L678.0,966.1 L679.0,966.1 L680.0,966.1 L681.0,966.2 L682.0,966.2 L683.0,966.2 L684.0,966.2 L685.0,966.2 L686.0,966.2 L687.0,966.2 L688.0,966.2 L689.0,966.2 L690.0,966.2 L691.0,966.2 L692.0,966.2 L693.0,966.2 L694.0,966.2 L695.0,966.2 L696.0,966.2 L697.0,966.2 L698.0,966.2 L699.0,966.2 L700.0,966.2 L701.0,966.2 L702.0,966.2 L703.0,966.2 L704.0,966.2 L705.0,966.2 L706.0,966.2 L707.0,966.2 L708.0,966.2 L709.0,966.2 L710.0,966.2 L711.0,966.2 L712.0,966.2 L713.0,966.2 L714.0,966.2 L715.0,966.2 L716.0,966.2 L717.0,966.2 L718.0,966.2 L719.0,966.2 L720.0,966.2 L721.0,966.2 L722.0,966.2 L723.0,966.2 L724.0,966.2 L725.0,966.2 L726.0,966.2 L727.0,966.2 L728.0,966.2 L729.0,966.2 L730.0,966.2 L731.0,966.2 L732.0,966.2 L733.0,966.2 L734.0,966.2 L735.0,966.2 L736.0,966.2 L737.0,966.2 L738.0,966.2 L739.0,966.2 L740.0,966.2 L741.0,966.2 L742.0,966.2 L743.0,966.2 L744.0,966.2 L745.0,966.2 L746.0,966.2 L747.0,966.2 L748.0,966.2 L749.0,966.2 L750.0,966.2 L751.0,966.2 L752.0,966.2 L753.0,966.2 L754.0,966.2 L755.0,966.2 L756.0,966.2 L757.0,966.2 L758.0,966.2 L759.0,966.2 L760.0,966.2 L761.0,966.2 L762.0,966.2 L763.0,966.2 L764.0,966.2 L765.0,966.2 L766.0,966.2 L767.0,966.2 L768.0,966.2 L769.0,966.2 L770.0,966.2 L771.0,966.2 L772.0,966.2 L773.0,966.2 L774.0,966.2 L775.0,966.2 L776.0,966.2 L777.0,966.2 L778.0,966.2 L779.0,966.2 L780.0,966.2 L781.0,966.2 L782.0,966.2 L783.0,966.2 L784.0,966.2 L785.0,966.1 L786.0,966.1 L787.0,966.1 L788.0,966.1 L789.0,966.0 L790.0,966.0 L791.0,965.9 L792.0,965.8 L793.0,965.7 L794.0,965.6 L795.0,965.4 L796.0,965.2 L797.0,965.0 L798.0,964.7 L799.0,964.3 L800.0,963.9 L801.0,963.5 L802.0,962.9 L803.0,962.3 L804.0,961.6 L805.0,960.9 L806.0,960.0 L807.0,959.0 L808.0,958.0 L809.0,956.8 L810.0,955.6 L811.0,954.3 L812.0,952.9 L813.0,951.5 L814.0,950.0 L815.0,948.5 L816.0,946.9 L817.0,945.4 L818.0,944.0 L819.0,942.6 L820.0,941.3 L821.0,940.1 L822.0,939.0 L823.0,938.1 L824.0,937.3 L825.0,936.7 L826.0,936.4 L827.0,936.2 L828.0,936.3 L829.0,936.5 L830.0,936.9 L831.0,937.6 L832.0,938.4 L833.0,939.4 L834.0,940.5 L835.0,941.8 L836.0,943.1 L837.0,944.6 L838.0,946.0 L839.0,947.5 L840.0,949.1 L841.0,950.6 L842.0,952.0 L843.0,953.5 L844.0,954.8 L845.0,956.1 L846.0,957.3 L847.0,958.4 L848.0,959.4 L849.0,960.4 L850.0,961.2 L851.0,961.9 L852.0,962.6 L853.0,963.2 L854.0,963.7 L855.0,964.1 L856.0,964.5 L857.0,964.8 L858.0,965.1 L859.0,965.3 L860.0,965.5 L861.0,965.6 L862.0,965.7 L863.0,965.8 L864.0,965.9 L865.0,966.0 L866.0,966.0 L867.0,966.1 L868.0,966.1 L869.0,966.1 L870.0,966.1 L871.0,966.2 L872.0,966.2 L873.0,966.2 L874.0,966.2 L875.0,966.2 L876.0,966.2 L877.0,966.2 L878.0,966.2 L879.0,966.2 L880.0,966.2 L881.0,966.2 L882.0,966.2 L883.0,966.2 L884.0,966.2 L885.0,966.2 L886.0,966.2 L887.0,966.2 L888.0,966.2 L889.0,966.2 L890.0,966.2 L891.0,966.2 L892.0,966.2 L893.0,966.2 L894.0,966.2 L895.0,966.2 L896.0,966.2 L897.0,966.2 L898.0,966.2 L899.0,966.2 L900.0,966.2 L901.0,966.2 L902.0,966.2 L903.0,966.2 L904.0,966.2 L905.0,966.2 L906.0,966.2 L907.0,966.2 L908.0,966.2 L909.0,966.2 L910.0,966.2 L911.0,966.2 L912.0,966.2 L913.0,966.2 L914.0,966.2 L915.0,966.2 L916.0,966.1 L917.0,966.1 L918.0,966.1 L919.0,966.1 L920.0,966.0 L921.0,966.0 L922.0,965.9 L923.0,965.9 L924.0,965.8 L925.0,965.7 L926.0,965.6 L927.0,965.4 L928.0,965.3 L929.0,965.1 L930.0,964.9 L931.0,964.6 L932.0,964.4 L933.0,964.1 L934.0,963.7 L935.0,963.3 L936.0,962.9 L937.0,962.5 L938.0,962.0 L939.0,961.5 L940.0,961.0 L941.0,960.5 L942.0,959.9 L943.0,959.4 L944.0,958.8 L945.0,958.3 L946.0,957.7 L947.0,957.2 L948.0,956.8 L949.0,956.4 L950.0,956.0 L951.0,955.7 L952.0,955.5 L953.0,955.3 L954.0,955.2 L955.0,955.2 L956.0,955.3 L957.0,955.4 L958.0,955.6 L959.0,955.9 L960.0,956.2 L961.0,956.6 L962.0,957.1 L963.0,957.5 L964.0,958.1 L965.0,958.6 L966.0,959.1 L967.0,959.7 L968.0,960.2 L969.0,960.8 L970.0,961.3 L971.0,961.8 L972.0,962.3 L973.0,962.8 L974.0,963.2 L975.0,963.6 L976.0,963.9 L977.0,964.2 L978.0,964.5 L979.0,964.8 L980.0,965.0 L981.0,965.2 L982.0,965.4 L983.0,965.5 L984.0,965.6 L985.0,965.7 L986.0,965.8 L987.0,965.9 L988.0,966.0 L989.0,966.0 L990.0,966.1 L991.0,966.1 L992.0,966.1 L993.0,966.1 L994.0,966.1 L995.0,966.2 L996.0,966.2 L997.0,966.2 L998.0,966.2 L999.0,966.2 L1000.0,966.2 L1001.0,966.2 L1002.0,966.2 L1003.0,966.2 L1004.0,966.2 L1005.0,966.2 L1006.0,966.2 L1007.0,966.2 L1008.0,966.2 L1009.0,966.2 L1010.0,966.2 L1011.0,966.2 L1012.0,966.2 L1013.0,966.2 L1014.0,966.2 L1015.0,966.2 L1016.0,966.2 L1017.0,966.2 L1018.0,966.2 L1019.0,966.2 L1020.0,966.2 L1021.0,966.2 L1022.0,966.2 L1023.0,966.2 L1024.0,966.2 L1025.0,966.2 L1026.0,966.2 L1027.0,966.2 L1028.0,966.2 L1029.0,966.2 L1030.0,966.2 L1031.0,966.2 L1032.0,966.2 L1033.0,966.2 L1034.0,966.2 L1035.0,966.2 L1036.0,966.2 L1037.0,966.2 L1038.0,966.2 L1039.0,966.2 L1040.0,966.2 L1041.0,966.2 L1042.0,966.2 L1043.0,966.1 L1044.0,966.1 L1045.0,966.1 L1046.0,966.1 L1047.0,966.1 L1048.0,966.0 L1049.0,966.0 L1050.0,965.9 L1051.0,965.9 L1052.0,965.8 L1053.0,965.8 L1054.0,965.7 L1055.0,965.6 L1056.0,965.6 L1057.0,965.5 L1058.0,965.4 L1059.0,965.3 L1060.0,965.1 L1061.0,965.0 L1062.0,964.9 L1063.0,964.8 L1064.0,964.6 L1065.0,964.5 L1066.0,964.4 L1067.0,964.3 L1068.0,964.2 L1069.0,964.1 L1070.0,964.0 L1071.0,963.9 L1072.0,963.8 L1073.0,963.8 L1074.0,963.7 L1075.0,963.7 L1076.0,963.7 L1077.0,963.7 L1078.0,963.7 L1079.0,963.8 L1080.0,963.9 L1081.0,963.9 L1082.0,964.0 L1083.0,964.1 L1084.0,964.2 L1085.0,964.3 L1086.0,964.5 L1087.0,964.6 L1088.0,964.7 L1089.0,964.8 L1090.0,965.0 L1091.0,965.1 L1092.0,965.2 L1093.0,965.3 L1094.0,965.4 L1095.0,965.5 L1096.0,965.6 L1097.0,965.7 L1098.0,965.8 L1099.0,965.8 L1100.0,965.9 L1101.0,965.9 L1102.0,966.0 L1103.0,966.0 L1104.0,966.0 L1105.0,966.1 L1106.0,966.1 L1107.0,966.1 L1108.0,966.1 L1109.0,966.1 L1110.0,966.2 L1111.0,966.2 L1112.0,966.2 L1113.0,966.2 L1114.0,966.2 L1115.0,966.2 L1116.0,966.2 L1117.0,966.2 L1118.0,966.2 L1119.0,966.2 L1120.0,966.2 L1121.0,966.2 L1122.0,966.2 L1123.0,966.2 L1124.0,966.2 L1125.0,966.2 L1126.0,966.2 L1127.0,966.2 L1128.0,966.2 L1129.0,966.2 L1130.0,966.2 L1131.0,966.2 L1132.0,966.2 L1133.0,966.2 L1134.0,966.2 L1135.0,966.2 L1136.0,966.1 L1137.0,966.1 L1138.0,966.1 L1139.0,966.1 L1140.0,966.1 L1141.0,966.1 L1142.0,966.1 L1143.0,966.1 L1144.0,966.1 L1145.0,966.1 L1146.0,966.1 L1147.0,966.1 L1148.0,966.1 L1149.0,966.1 L1150.0,966.0 L1151.0,966.0 L1152.0,966.0 L1153.0,966.0 L1154.0,966.0 L1155.0,966.0 L1156.0,966.0 L1157.0,966.0 L1158.0,965.9 L1159.0,965.9 L1160.0,965.9 L1161.0,965.9 L1162.0,965.9 L1163.0,965.8 L1164.0,965.8 L1165.0,965.8 L1166.0,965.8 L1167.0,965.7 L1168.0,965.7 L1169.0,965.7 L1170.0,965.7 L1171.0,965.6 L1172.0,965.6 L1173.0,965.6 L1174.0,965.5 L1175.0,965.5 L1176.0,965.5 L1177.0,965.4 L1178.0,965.4 L1179.0,965.3 L1180.0,965.3 L1181.0,965.2 L1182.0,965.2 L1183.0,965.1 L1184.0,965.1 L1185.0,965.0 L1186.0,964.9 L1187.0,964.9 L1188.0,964.8 L1189.0,964.7 L1190.0,964.7 L1191.0,964.6 L1192.0,964.5 L1193.0,964.4 L1194.0,964.3 L1195.0,964.2 L1196.0,964.1 L1197.0,963.9 L1198.0,963.8 L1199.0,963.6 L1200.0,963.4 L1201.0,963.2 L1202.0,962.9 L1203.0,962.6 L1204.0,962.2 L1205.0,961.8 L1206.0,961.3 L1207.0,960.7 L1208.0,960.0 L1209.0,959.2 L1210.0,958.2 L1211.0,957.1 L1212.0,955.8 L1213.0,954.4 L1214.0,952.7 L1215.0,950.7 L1216.0,948.5 L1217.0,945.9 L1218.0,943.0 L1219.0,939.8 L1220.0,936.1 L1221.0,932.1 L1222.0,927.5 L1223.0,922.5 L1224.0,917.0 L1225.0,911.0 L1226.0,904.5 L1227.0,897.4 L1228.0,889.9 L1229.0,881.8 L1230.0,873.2 L1231.0,864.2 L1232.0,854.8 L1233.0,845.0 L1234.0,834.9 L1235.0,824.6 L1236.0,814.1 L1237.0,803.5 L1238.0,793.0 L1239.0,782.6 L1240.0,772.5 L1241.0,762.7 L1242.0,753.3 L1243.0,744.5 L1244.0,736.4 L1245.0,729.1 L1246.0,722.6 L1247.0,717.0 L1248.0,712.5 L1249.0,709.1 L1250.0,706.8 L1251.0,705.6 L1252.0,705.6 L1253.0,706.7 L1254.0,708.7 L1255.0,711.7 L1256.0,715.6 L1257.0,720.4 L1258.0,726.0 L1259.0,732.4 L1260.0,739.5 L1261.0,747.2 L1262.0,755.5 L1263.0,764.2 L1264.0,773.3 L1265.0,782.6 L1266.0,792.2 L1267.0,801.8 L1268.0,811.5 L1269.0,821.1 L1270.0,830.6 L1271.0,840.0 L1272.0,849.1 L1273.0,857.9 L1274.0,866.4 L1275.0,874.5 L1276.0,882.2 L1277.0,889.4 L1278.0,896.3 L1279.0,902.7 L1280.0,908.6 L1281.0,914.1 L1282.0,919.2 L1283.0,923.8 L1284.0,928.0 L1285.0,931.9 L1286.0,935.3 L1287.0,938.4 L1288.0,941.1 L1289.0,943.6 L1290.0,945.7 L1291.0,947.6 L1292.0,949.2 L1293.0,950.7 L1294.0,951.9 L1295.0,952.9 L1296.0,953.7 L1297.0,954.5 L1298.0,955.0 L1299.0,955.5 L1300.0,955.9 L1301.0,956.1 L1302.0,956.3 L1303.0,956.4 L1304.0,956.5 L1305.0,956.5 L1306.0,956.5 L1307.0,956.4 L1308.0,956.3 L1309.0,956.2 L1310.0,956.0 L1311.0,955.9 L1312.0,955.7 L1313.0,955.5 L1314.0,955.3 L1315.0,955.2 L1316.0,955.0 L1317.0,954.8 L1318.0,954.7 L1319.0,954.5 L1320.0,954.4 L1321.0,954.3 L1322.0,954.2 L1323.0,954.1 L1324.0,954.1 L1325.0,954.1 L1326.0,954.1 L1327.0,954.2 L1328.0,954.2 L1329.0,954.3 L1330.0,954.4 L1331.0,954.6 L1332.0,954.7 L1333.0,954.8 L1334.0,955.0 L1335.0,955.2 L1336.0,955.3 L1337.0,955.5 L1338.0,955.7 L1339.0,955.9 L1340.0,956.2 L1341.0,956.4 L1342.0,956.6 L1343.0,956.9 L1344.0,957.1 L1345.0,957.4 L1346.0,957.6 L1347.0,957.9 L1348.0,958.1 L1349.0,958.4 L1350.0,958.7 L1351.0,958.9 L1352.0,959.2 L1353.0,959.5 L1354.0,959.7 L1355.0,960.0 L1356.0,960.3 L1357.0,960.5 L1358.0,960.8 L1359.0,961.0 L1360.0,961.3 L1361.0,961.5 L1362.0,961.7 L1363.0,962.0 L1364.0,962.2 L1365.0,962.4 L1366.0,962.6 L1367.0,962.8 L1368.0,963.0 L1369.0,963.2 L1370.0,963.4 L1371.0,963.5 L1372.0,963.7 L1373.0,963.9 L1374.0,964.0 L1375.0,964.2 L1376.0,964.3 L1377.0,964.4 L1378.0,964.5 L1379.0,964.6 L1380.0,964.8 L1381.0,964.9 L1382.0,964.9 L1383.0,965.0 L1384.0,965.1 L1385.0,965.2 L1386.0,965.3 L1387.0,965.3 L1388.0,965.4 L1389.0,965.4 L1390.0,965.5 L1391.0,965.5 L1392.0,965.5 L1393.0,965.6 L1394.0,965.6 L1395.0,965.6 L1396.0,965.6 L1397.0,965.6 L1398.0,965.6 L1399.0,965.6 L1400.0,965.5 L1401.0,965.5 L1402.0,965.4 L1403.0,965.4 L1404.0,965.3 L1405.0,965.2 L1406.0,965.1 L1407.0,965.0 L1408.0,964.9 L1409.0,964.8 L1410.0,964.6 L1411.0,964.5 L1412.0,964.3 L1413.0,964.1 L1414.0,963.9 L1415.0,963.7 L1416.0,963.5 L1417.0,963.3 L1418.0,963.1 L1419.0,962.9 L1420.0,962.7 L1421.0,962.5 L1422.0,962.3 L1423.0,962.1 L1424.0,961.9 L1425.0,961.7 L1426.0,961.6 L1427.0,961.5 L1428.0,961.4 L1429.0,961.3 L1430.0,961.2 L1431.0,961.2 L1432.0,961.2 L1433.0,961.2 L1434.0,961.2 L1435.0,961.3 L1436.0,961.4 L1437.0,961.5 L1438.0,961.6 L1439.0,961.8 L1440.0,961.9 L1441.0,962.1 L1442.0,962.3 L1443.0,962.5 L1444.0,962.7 L1445.0,962.9 L1446.0,963.2 L1447.0,963.4 L1448.0,963.6 L1449.0,963.8 L1450.0,964.0 L1451.0,964.2 L1452.0,964.4 L1453.0,964.6 L1454.0,964.7 L1455.0,964.9 L1456.0,965.0 L1457.0,965.2 L1458.0,965.3 L1459.0,965.4 L1460.0,965.5 L1461.0,965.6 L1462.0,965.7 L1463.0,965.8 L1464.0,965.8 L1465.0,965.9 L1466.0,965.9 L1467.0,966.0 L1468.0,966.0 L1469.0,966.0 L1470.0,966.1 L1471.0,966.1 L1472.0,966.1 L1473.0,966.1 L1474.0,966.1 L1475.0,966.2 L1476.0,966.2 L1477.0,966.2 L1478.0,966.2 L1479.0,966.2 L1480.0,966.2 L1481.0,966.2 L1482.0,966.2 L1483.0,966.2 L1484.0,966.2 L1485.0,966.2 L1486.0,966.2 L1487.0,966.2 L1488.0,966.2 L1489.0,966.2 L1490.0,966.2 L1491.0,966.2 L1492.0,966.2 L1493.0,966.2 L1494.0,966.2 L1495.0,966.2 L1496.0,966.2 L1497.0,966.2 L1498.0,966.2 L1499.0,966.2 L1500.0,966.2 L1501.0,966.2 L1502.0,966.2 L1503.0,966.2 L1504.0,966.2 L1505.0,966.2 L1506.0,966.2 L1507.0,966.2 L1508.0,966.2 L1509.0,966.2 L1510.0,966.2 L1511.0,966.2 L1512.0,966.2 L1513.0,966.2 L1514.0,966.2 L1515.0,966.2 L1516.0,966.2 L1517.0,966.2 L1518.0,966.2 L1519.0,966.2 L1520.0,966.2 L1521.0,966.2 L1522.0,966.2 L1523.0,966.2 L1524.0,966.2 L1525.0,966.2 L1526.0,966.2 L1527.0,966.1 L1528.0,966.1 L1529.0,966.1 L1530.0,966.1 L1531.0,966.1 L1532.0,966.0 L1533.0,966.0 L1534.0,966.0 L1535.0,965.9 L1536.0,965.9 L1537.0,965.8 L1538.0,965.8 L1539.0,965.7 L1540.0,965.6 L1541.0,965.5 L1542.0,965.4 L1543.0,965.3 L1544.0,965.1 L1545.0,965.0 L1546.0,964.8 L1547.0,964.6 L1548.0,964.5 L1549.0,964.3 L1550.0,964.0 L1551.0,963.8 L1552.0,963.6 L1553.0,963.3 L1554.0,963.1 L1555.0,962.8 L1556.0,962.6 L1557.0,962.3 L1558.0,962.0 L1559.0,961.8 L1560.0,961.6 L1561.0,961.3 L1562.0,961.1 L1563.0,960.9 L1564.0,960.7 L1565.0,960.6 L1566.0,960.4 L1567.0,960.3 L1568.0,960.3 L1569.0,960.2 L1570.0,960.2 L1571.0,960.2 L1572.0,960.3 L1573.0,960.3 L1574.0,960.4 L1575.0,960.6 L1576.0,960.7 L1577.0,960.9 L1578.0,961.1 L1579.0,961.3 L1580.0,961.5 L1581.0,961.8 L1582.0,962.0 L1583.0,962.3 L1584.0,962.5 L1585.0,962.8 L1586.0,963.0 L1587.0,963.2 L1588.0,963.5 L1589.0,963.7 L1590.0,963.9 L1591.0,964.1 L1592.0,964.2 L1593.0,964.4 L1594.0,964.5 L1595.0,964.6 L1596.0,964.7 L1597.0,964.8 L1598.0,964.8 L1599.0,964.8 L1600.0,964.8 L1601.0,964.8 L1602.0,964.7 L1603.0,964.7 L1604.0,964.6 L1605.0,964.5 L1606.0,964.4 L1607.0,964.2 L1608.0,964.1 L1609.0,963.9 L1610.0,963.7 L1611.0,963.5 L1612.0,963.3 L1613.0,963.1 L1614.0,962.9 L1615.0,962.7 L1616.0,962.5 L1617.0,962.3 L1618.0,962.1 L1619.0,961.9 L1620.0,961.8 L1621.0,961.6 L1622.0,961.5 L1623.0,961.4 L1624.0,961.3 L1625.0,961.2 L1626.0,961.2 L1627.0,961.2 L1628.0,961.2 L1629.0,961.2 L1630.0,961.3 L1631.0,961.4 L1632.0,961.5 L1633.0,961.6 L1634.0,961.8 L1635.0,961.9 L1636.0,962.1 L1637.0,962.3 L1638.0,962.5 L1639.0,962.7 L1640.0,962.9 L1641.0,963.1 L1642.0,963.4 L1643.0,963.6 L1644.0,963.8 L1645.0,964.0 L1646.0,964.2 L1647.0,964.3 L1648.0,964.5 L1649.0,964.6 L1650.0,964.8 L1651.0,964.9 L1652.0,965.0 L1653.0,965.1 L1654.0,965.1 L1655.0,965.2 L1656.0,965.2 L1657.0,965.2 L1658.0,965.2 L1659.0,965.1 L1660.0,965.1 L1661.0,965.0 L1662.0,964.9 L1663.0,964.8 L1664.0,964.6 L1665.0,964.5 L1666.0,964.3 L1667.0,964.0 L1668.0,963.8 L1669.0,963.5 L1670.0,963.3 L1671.0,963.0 L1672.0,962.7 L1673.0,962.3 L1674.0,962.0 L1675.0,961.7 L1676.0,961.3 L1677.0,961.0 L1678.0,960.7 L1679.0,960.3 L1680.0,960.0 L1681.0,959.7 L1682.0,959.4 L1683.0,959.1 L1684.0,958.9 L1685.0,958.7 L1686.0,958.5 L1687.0,958.4 L1688.0,958.3 L1689.0,958.2 L1690.0,958.2 L1691.0,958.2 L1692.0,958.3 L1693.0,958.4 L1694.0,958.5 L1695.0,958.7 L1696.0,958.9 L1697.0,959.1 L1698.0,959.4 L1699.0,959.7 L1700.0,960.0 L1701.0,960.3 L1702.0,960.7 L1703.0,961.0 L1704.0,961.3 L1705.0,961.7 L1706.0,962.0 L1707.0,962.4 L1708.0,962.7 L1709.0,963.0 L1710.0,963.3 L1711.0,963.6 L1712.0,963.9 L1713.0,964.1 L1714.0,964.4 L1715.0,964.6 L1716.0,964.8 L1717.0,965.0 L1718.0,965.1 L1719.0,965.3 L1720.0,965.4 L1721.0,965.5 L1722.0,965.6 L1723.0,965.7 L1724.0,965.8 L1725.0,965.8 L1726.0,965.9 L1727.0,966.0 L1728.0,966.0 L1729.0,966.0 L1730.0,966.1 L1731.0,966.1 L1732.0,966.1 L1733.0,966.1 L1734.0,966.1 L1735.0,966.2 L1736.0,966.2 L1737.0,966.2 L1738.0,966.2 L1739.0,966.2 L1740.0,966.2 L1741.0,966.2 L1742.0,966.2 L1743.0,966.2 L1744.0,966.2 L1745.0,966.2 L1746.0,966.2 L1747.0,966.2 L1748.0,966.2 L1749.0,966.2 L1750.0,966.2 L1751.0,966.2 L1752.0,966.2 L1753.0,966.2 L1754.0,966.2 L1755.0,966.2 L1756.0,966.2 L1757.0,966.2 L1758.0,966.2 L1759.0,966.2 L1760.0,966.2 L1761.0,966.2 L1762.0,966.2 L1763.0,966.2 L1764.0,966.2 L1765.0,966.2 L1766.0,966.2 L1767.0,966.2 L1768.0,966.2 L1769.0,966.2 L1770.0,966.2 L1771.0,966.2 L1772.0,966.2 L1773.0,966.2 L1774.0,966.2 L1775.0,966.2 L1776.0,966.2 L1777.0,966.1 L1778.0,966.1 L1779.0,966.1 L1780.0,966.1 L1781.0,966.1 L1782.0,966.1 L1783.0,966.1 L1784.0,966.1 L1785.0,966.0 L1786.0,966.0 L1787.0,966.0 L1788.0,965.9 L1789.0,965.9 L1790.0,965.8 L1791.0,965.8 L1792.0,965.7 L1793.0,965.6 L1794.0,965.5 L1795.0,965.4 L1796.0,965.2 L1797.0,965.0 L1798.0,964.8 L1799.0,964.6 L1800.0,964.3 L1801.0,963.9 L1802.0,963.5 L1803.0,963.1 L1804.0,962.5 L1805.0,961.8 L1806.0,961.1 L1807.0,960.2 L1808.0,959.2 L1809.0,958.0 L1810.0,956.7 L1811.0,955.2 L1812.0,953.5 L1813.0,951.5 L1814.0,949.3 L1815.0,946.7 L1816.0,943.9 L1817.0,940.8 L1818.0,937.3 L1819.0,933.4 L1820.0,929.2 L1821.0,924.5 L1822.0,919.4 L1823.0,913.9 L1824.0,907.9 L1825.0,901.5 L1826.0,894.6 L1827.0,887.2 L1828.0,879.5 L1829.0,871.3 L1830.0,862.7 L1831.0,853.8 L1832.0,844.6 L1833.0,835.1 L1834.0,825.4 L1835.0,815.5 L1836.0,805.6 L1837.0,795.7 L1838.0,785.8 L1839.0,776.1 L1840.0,766.7 L1841.0,757.6 L1842.0,748.8 L1843.0,740.6 L1844.0,733.0 L1845.0,726.1 L1846.0,719.9 L1847.0,714.5 L1848.0,709.9 L1849.0,706.3 L1850.0,703.6 L1851.0,701.9 L1852.0,701.2 L1853.0,701.4 L1854.0,702.5 L1855.0,704.5 L1856.0,707.3 L1857.0,710.9 L1858.0,715.3 L1859.0,720.4 L1860.0,726.1 L1861.0,732.5 L1862.0,739.4 L1863.0,746.7 L1864.0,754.5 L1865.0,762.5 L1866.0,770.8 L1867.0,779.2 L1868.0,787.6 L1869.0,796.0 L1870.0,804.4 L1871.0,812.6 L1872.0,820.5 L1873.0,828.2 L1874.0,835.6 L1875.0,842.6 L1876.0,849.1 L1877.0,855.2 L1878.0,860.8 L1879.0,865.8 L1880.0,870.4 L1881.0,874.3 L1882.0,877.7 L1883.0,880.5 L1884.0,882.8 L1885.0,884.4 L1886.0,885.6 L1887.0,886.2 L1888.0,886.2 L1889.0,885.8 L1890.0,885.0 L1891.0,883.7 L1892.0,882.0 L1893.0,879.9 L1894.0,877.5 L1895.0,874.9 L1896.0,872.0 L1897.0,869.0 L1898.0,865.8 L1899.0,862.5 L1900.0,859.3 L1901.0,856.0 L1902.0,852.8 L1903.0,849.7 L1904.0,846.8 L1905.0,844.1 L1906.0,841.7 L1907.0,839.5 L1908.0,837.7 L1909.0,836.2 L1910.0,835.1 L1911.0,834.4 L1912.0,834.1 L1913.0,834.2 L1914.0,834.8 L1915.0,835.7 L1916.0,837.1 L1917.0,838.9 L1918.0,841.0 L1919.0,843.6 L1920.0,846.4 L1921.0,849.6 L1922.0,853.1 L1923.0,856.8 L1924.0,860.8 L1925.0,864.9 L1926.0,869.2 L1927.0,873.6 L1928.0,878.1 L1929.0,882.6 L1930.0,887.1 L1931.0,891.7 L1932.0,896.1 L1933.0,900.5 L1934.0,904.8 L1935.0,909.0 L1936.0,913.0 L1937.0,916.9 L1938.0,920.6 L1939.0,924.1 L1940.0,927.5 L1941.0,930.6 L1942.0,933.6 L1943.0,936.3 L1944.0,938.9 L1945.0,941.3 L1946.0,943.5 L1947.0,945.5 L1948.0,947.3 L1949.0,949.0 L1950.0,950.6 L1951.0,951.9 L1952.0,953.2 L1953.0,954.3 L1954.0,955.4 L1955.0,956.3 L1956.0,957.1 L1957.0,957.8 L1958.0,958.5 L1959.0,959.0 L1960.0,959.5 L1961.0,960.0 L1962.0,960.4 L1963.0,960.8 L1964.0,961.1 L1965.0,961.4 L1966.0,961.6 L1967.0,961.9 L1968.0,962.1 L1969.0,962.2 L1970.0,962.4 L1971.0,962.6 L1972.0,962.7 L1973.0,962.8 L1974.0,962.9 L1975.0,963.0 L1976.0,963.0 L1977.0,963.1 L1978.0,963.1 L1979.0,963.1 L1980.0,963.2 L1981.0,963.1 L1982.0,963.1 L1983.0,963.1 L1984.0,963.0 L1985.0,962.9 L1986.0,962.8 L1987.0,962.6 L1988.0,962.4 L1989.0,962.2 L1990.0,961.9 L1991.0,961.6 L1992.0,961.2 L1993.0,960.8 L1994.0,960.2 L1995.0,959.7 L1996.0,959.0 L1997.0,958.3 L1998.0,957.4 L1999.0,956.5 L2000.0,955.4 L2001.0,954.2 L2002.0,952.9 L2003.0,951.4 L2004.0,949.8 L2005.0,948.0 L2006.0,946.0 L2007.0,943.8 L2008.0,941.5 L2009.0,938.9 L2010.0,936.1 L2011.0,933.1 L2012.0,929.9 L2013.0,926.4 L2014.0,922.7 L2015.0,918.7 L2016.0,914.5 L2017.0,910.0 L2018.0,905.3 L2019.0,900.4 L2020.0,895.2 L2021.0,889.8 L2022.0,884.2 L2023.0,878.3 L2024.0,872.3 L2025.0,866.2 L2026.0,859.9 L2027.0,853.4 L2028.0,846.9 L2029.0,840.4 L2030.0,833.8 L2031.0,827.3 L2032.0,820.7 L2033.0,814.3 L2034.0,808.0 L2035.0,801.9 L2036.0,796.0 L2037.0,790.3 L2038.0,784.9 L2039.0,779.8 L2040.0,775.1 L2041.0,770.8 L2042.0,766.9 L2043.0,763.4 L2044.0,760.4 L2045.0,757.9 L2046.0,756.0 L2047.0,754.5 L2048.0,753.6 L2049.0,753.3 L2050.0,753.7 L2051.0,754.9 L2052.0,756.8 L2053.0,759.4 L2054.0,762.7 L2055.0,766.7 L2056.0,771.3 L2057.0,776.4 L2058.0,782.0 L2059.0,788.1 L2060.0,794.5 L2061.0,801.3 L2062.0,808.2 L2063.0,815.4 L2064.0,822.6 L2065.0,829.9 L2066.0,837.2 L2067.0,844.4 L2068.0,851.5 L2069.0,858.4 L2070.0,865.1 L2071.0,871.6 L2072.0,877.9 L2073.0,883.8 L2074.0,889.5 L2075.0,894.9 L2076.0,899.9 L2077.0,904.6 L2078.0,909.0 L2079.0,913.0 L2080.0,916.8 L2081.0,920.2 L2082.0,923.4 L2083.0,926.3 L2084.0,928.9 L2085.0,931.3 L2086.0,933.4 L2087.0,935.4 L2088.0,937.1 L2089.0,938.6 L2090.0,940.0 L2091.0,941.2 L2092.0,942.3 L2093.0,943.3 L2094.0,944.1 L2095.0,944.9 L2096.0,945.5 L2097.0,946.1 L2098.0,946.6 L2099.0,947.0 L2100.0,947.3 L2101.0,947.6 L2102.0,947.9 L2103.0,948.0 L2104.0,948.2 L2105.0,948.2 L2106.0,948.3 L2107.0,948.3 L2108.0,948.2 L2109.0,948.1 L2110.0,948.0 L2111.0,947.9 L2112.0,947.7 L2113.0,947.5 L2114.0,947.2 L2115.0,947.0 L2116.0,946.7 L2117.0,946.4 L2118.0,946.1 L2119.0,945.8 L2120.0,945.5 L2121.0,945.2 L2122.0,944.9 L2123.0,944.6 L2124.0,944.4 L2125.0,944.1 L2126.0,943.9 L2127.0,943.8 L2128.0,943.7 L2129.0,943.6 L2130.0,943.6 L2131.0,943.6 L2132.0,943.7 L2133.0,943.8 L2134.0,944.0 L2135.0,944.2 L2136.0,944.5 L2137.0,944.9 L2138.0,945.3 L2139.0,945.7 L2140.0,946.2 L2141.0,946.7 L2142.0,947.3 L2143.0,947.9 L2144.0,948.5 L2145.0,949.1 L2146.0,949.8 L2147.0,950.5 L2148.0,951.2 L2149.0,951.9 L2150.0,952.6 L2151.0,953.3 L2152.0,954.0 L2153.0,954.7 L2154.0,955.4 L2155.0,956.1 L2156.0,956.7 L2157.0,957.4 L2158.0,958.0 L2159.0,958.6 L2160.0,959.1 L2161.0,959.7 L2162.0,960.2 L2163.0,960.7 L2164.0,961.1 L2165.0,961.5 L2166.0,961.9 L2167.0,962.3 L2168.0,962.6 L2169.0,963.0 L2170.0,963.2 L2171.0,963.5 L2172.0,963.7 L2173.0,963.9 L2174.0,964.1 L2175.0,964.3 L2176.0,964.5 L2177.0,964.6 L2178.0,964.7 L2179.0,964.8 L2180.0,964.9 L2181.0,964.9 L2182.0,964.9 L2183.0,964.9 L2184.0,964.9 L2185.0,964.9 L2186.0,964.9 L2187.0,964.8 L2188.0,964.7 L2189.0,964.6 L2190.0,964.4 L2191.0,964.2 L2192.0,964.0 L2193.0,963.7 L2194.0,963.5 L2195.0,963.1 L2196.0,962.8 L2197.0,962.3 L2198.0,961.9 L2199.0,961.4 L2200.0,960.8 L2201.0,960.3 L2202.0,959.6 L2203.0,958.9 L2204.0,958.2 L2205.0,957.4 L2206.0,956.6 L2207.0,955.7 L2208.0,954.8 L2209.0,953.9 L2210.0,952.9 L2211.0,951.9 L2212.0,950.9 L2213.0,949.9 L2214.0,948.9 L2215.0,947.8 L2216.0,946.9 L2217.0,945.9 L2218.0,944.9 L2219.0,944.1 L2220.0,943.2 L2221.0,942.4 L2222.0,941.7 L2223.0,941.1 L2224.0,940.5 L2225.0,940.1 L2226.0,939.7 L2227.0,939.4 L2228.0,939.3 L2229.0,939.2 L2230.0,939.2 L2231.0,939.4 L2232.0,939.6 L2233.0,940.0 L2234.0,940.4 L2235.0,941.0 L2236.0,941.6 L2237.0,942.3 L2238.0,943.1 L2239.0,943.9 L2240.0,944.8 L2241.0,945.7 L2242.0,946.7 L2243.0,947.7 L2244.0,948.7 L2245.0,949.7 L2246.0,950.7 L2247.0,951.7 L2248.0,952.7 L2249.0,953.7 L2250.0,954.7 L2251.0,955.6 L2252.0,956.5 L2253.0,957.3 L2254.0,958.1 L2255.0,958.9 L2256.0,959.6 L2257.0,960.3 L2258.0,960.9 L2259.0,961.5 L2260.0,962.0 L2261.0,962.5 L2262.0,962.9 L2263.0,963.3 L2264.0,963.7 L2265.0,964.0 L2266.0,964.3 L2267.0,964.6 L2268.0,964.8 L2269.0,965.0 L2270.0,965.2 L2271.0,965.3 L2272.0,965.5 L2273.0,965.6 L2274.0,965.7 L2275.0,965.8 L2276.0,965.8 L2277.0,965.9 L2278.0,965.9 L2279.0,966.0 L2280.0,966.0 L2281.0,966.1 L2282.0,966.1 L2283.0,966.1 L2284.0,966.1 L2285.0,966.1 L2286.0,966.2 L2287.0,966.2 L2288.0,966.2 L2289.0,966.2 L2290.0,966.2 L2291.0,966.2 L2292.0,966.2 L2293.0,966.2 L2294.0,966.2 L2295.0,966.2 L2296.0,966.2 L2297.0,966.2 L2298.0,966.2 L2299.0,966.2 L2300.0,966.2 L2301.0,966.2 L2302.0,966.2 L2303.0,966.2 L2304.0,966.2 L2305.0,966.2 L2306.0,966.2 L2307.0,966.2 L2308.0,966.2 L2309.0,966.2 L2310.0,966.2 L2311.0,966.2 L2312.0,966.2 L2313.0,966.2 L2314.0,966.2 L2315.0,966.2 L2316.0,966.2 L2317.0,966.2 L2318.0,966.2 L2319.0,966.2 L2320.0,966.2 L2321.0,966.2 L2322.0,966.2 L2323.0,966.2 L2324.0,966.2 L2325.0,966.2 L2326.0,966.2 L2327.0,966.2 L2328.0,966.2 L2329.0,966.2 L2330.0,966.2 L2331.0,966.2 L2332.0,966.2 L2333.0,966.2 L2334.0,966.2 L2335.0,966.2 L2336.0,966.2 L2337.0,966.2 L2338.0,966.2 L2339.0,966.2 L2340.0,966.2 L2341.0,966.2 L2342.0,966.2 L2343.0,966.2 L2344.0,966.2 L2345.0,966.2 L2346.0,966.2 L2347.0,966.2 L2348.0,966.2 L2349.0,966.2 L2350.0,966.2 L2351.0,966.2 L2352.0,966.2 L2353.0,966.2 L2354.0,966.2 L2355.0,966.2 L2356.0,966.2 L2357.0,966.2 L2358.3,966.2"/>
<path stroke="#000000" d="M364.0,1500.4 L365.0,1500.3 L366.0,1500.3 L367.0,1500.2 L368.0,1500.1 L369.0,1500.0 L370.0,1499.9 L371.0,1499.8 L372.0,1499.8 L373.0,1499.7 L374.0,1499.6 L375.0,1499.5 L376.0,1499.3 L377.0,1499.2 L378.0,1499.1 L379.0,1499.0 L380.0,1498.9 L381.0,1498.7 L382.0,1498.6 L383.0,1498.4 L384.0,1498.2 L385.0,1498.0 L386.0,1497.8 L387.0,1497.6 L388.0,1497.3 L389.0,1496.9 L390.0,1496.5 L391.0,1496.0 L392.0,1495.5 L393.0,1494.8 L394.0,1493.9 L395.0,1492.9 L396.0,1491.7 L397.0,1490.2 L398.0,1488.3 L399.0,1486.2 L400.0,1483.5 L401.0,1480.4 L402.0,1476.7 L403.0,1472.3 L404.0,1467.1 L405.0,1461.1 L406.0,1454.1 L407.0,1446.1 L408.0,1436.8 L409.0,1426.4 L410.0,1414.5 L411.0,1401.2 L412.0,1386.5 L413.0,1370.2 L414.0,1352.3 L415.0,1332.9 L416.0,1312.0 L417.0,1289.7 L418.0,1266.1 L419.0,1241.2 L420.0,1215.5 L421.0,1188.9 L422.0,1161.9 L423.0,1134.7 L424.0,1107.6 L425.0,1081.0 L426.0,1055.3 L427.0,1030.8 L428.0,1007.9 L429.0,986.9 L430.0,968.3 L431.0,952.4 L432.0,939.3 L433.0,929.3 L434.0,922.7 L435.0,919.5 L436.0,919.7 L437.0,923.2 L438.0,929.9 L439.0,939.6 L440.0,952.2 L441.0,967.4 L442.0,985.1 L443.0,1005.0 L444.0,1026.8 L445.0,1050.0 L446.0,1074.5 L447.0,1099.8 L448.0,1125.7 L449.0,1151.8 L450.0,1177.8 L451.0,1203.4 L452.0,1228.4 L453.0,1252.7 L454.0,1275.9 L455.0,1298.0 L456.0,1318.7 L457.0,1338.2 L458.0,1356.2 L459.0,1372.8 L460.0,1388.0 L461.0,1401.7 L462.0,1414.1 L463.0,1425.2 L464.0,1435.0 L465.0,1443.7 L466.0,1451.4 L467.0,1458.0 L468.0,1463.7 L469.0,1468.7 L470.0,1472.9 L471.0,1476.5 L472.0,1479.6 L473.0,1482.2 L474.0,1484.3 L475.0,1486.1 L476.0,1487.7 L477.0,1488.9 L478.0,1490.0 L479.0,1490.8 L480.0,1491.5 L481.0,1492.2 L482.0,1492.7 L483.0,1493.1 L484.0,1493.5 L485.0,1493.8 L486.0,1494.1 L487.0,1494.3 L488.0,1494.5 L489.0,1494.8 L490.0,1494.9 L491.0,1495.1 L492.0,1495.3 L493.0,1495.5 L494.0,1495.6 L495.0,1495.8 L496.0,1495.9 L497.0,1496.1 L498.0,1496.2 L499.0,1496.4 L500.0,1496.5 L501.0,1496.7 L502.0,1496.8 L503.0,1496.9 L504.0,1497.1 L505.0,1497.2 L506.0,1497.4 L507.0,1497.5 L508.0,1497.6 L509.0,1497.7 L510.0,1497.9 L511.0,1498.0 L512.0,1498.1 L513.0,1498.2 L514.0,1498.4 L515.0,1498.5 L516.0,1498.6 L517.0,1498.7 L518.0,1498.8 L519.0,1498.9 L520.0,1499.0 L521.0,1499.1 L522.0,1499.2 L523.0,1499.3 L524.0,1499.4 L525.0,1499.5 L526.0,1499.6 L527.0,1499.7 L528.0,1499.8 L529.0,1499.8 L530.0,1499.9 L531.0,1500.0 L532.0,1500.1 L533.0,1500.1 L534.0,1500.2 L535.0,1500.3 L536.0,1500.4 L537.0,1500.4 L538.0,1500.5 L539.0,1500.5 L540.0,1500.6 L541.0,1500.6 L542.0,1500.7 L543.0,1500.8 L544.0,1500.8 L545.0,1500.9 L546.0,1500.9 L547.0,1500.9 L548.0,1501.0 L549.0,1501.0 L550.0,1501.1 L551.0,1501.1 L552.0,1501.1 L553.0,1501.2 L554.0,1501.2 L555.0,1501.2 L556.0,1501.3 L557.0,1501.3 L558.0,1501.3 L559.0,1501.3 L560.0,1501.4 L561.0,1501.4 L562.0,1501.4 L563.0,1501.4 L564.0,1501.5 L565.0,1501.5 L566.0,1501.5 L567.0,1501.5 L568.0,1501.5 L569.0,1501.5 L570.0,1501.6 L571.0,1501.6 L572.0,1501.6 L573.0,1501.6 L574.0,1501.6 L575.0,1501.6 L576.0,1501.6 L577.0,1501.6 L578.0,1501.7 L579.0,1501.7 L580.0,1501.7 L581.0,1501.7 L582.0,1501.7 L583.0,1501.7 L584.0,1501.7 L585.0,1501.7 L586.0,1501.7 L587.0,1501.7 L588.0,1501.7 L589.0,1501.7 L590.0,1501.7 L591.0,1501.7 L592.0,1501.7 L593.0,1501.7 L594.0,1501.8 L595.0,1501.8 L596.0,1501.8 L597.0,1501.8 L598.0,1501.8 L599.0,1501.8 L600.0,1501.8 L601.0,1501.8 L602.0,1501.8 L603.0,1501.8 L604.0,1501.8 L605.0,1501.8 L606.0,1501.8 L607.0,1501.8 L608.0,1501.8 L609.0,1501.8 L610.0,1501.8 L611.0,1501.8 L612.0,1501.8 L613.0,1501.8 L614.0,1501.8 L615.0,1501.8 L616.0,1501.8 L617.0,1501.8 L618.0,1501.8 L619.0,1501.8 L620.0,1501.8 L621.0,1501.8 L622.0,1501.8 L623.0,1501.8 L624.0,1501.8 L625.0,1501.8 L626.0,1501.8 L627.0,1501.8 L628.0,1501.8 L629.0,1501.8 L630.0,1501.8 L631.0,1501.8 L632.0,1501.8 L633.0,1501.8 L634.0,1501.8 L635.0,1501.8 L636.0,1501.8 L637.0,1501.8 L638.0,1501.8 L639.0,1501.8 L640.0,1501.8 L641.0,1501.8 L642.0,1501.8 L643.0,1501.8 L644.0,1501.8 L645.0,1501.8 L646.0,1501.8 L647.0,1501.8 L648.0,1501.8 L649.0,1501.8 L650.0,1501.8 L651.0,1501.8 L652.0,1501.8 L653.0,1501.8 L654.0,1501.8 L655.0,1501.8 L656.0,1501.8 L657.0,1501.8 L658.0,1501.8 L659.0,1501.8 L660.0,1501.8 L661.0,1501.8 L662.0,1501.8 L663.0,1501.8 L664.0,1501.8 L665.0,1501.8 L666.0,1501.8 L667.0,1501.8 L668.0,1501.8 L669.0,1501.8 L670.0,1501.8 L671.0,1501.8 L672.0,1501.8 L673.0,1501.8 L674.0,1501.8 L675.0,1501.8 L676.0,1501.8 L677.0,1501.8 L678.0,1501.8 L679.0,1501.8 L680.0,1501.8 L681.0,1501.8 L682.0,1501.8 L683.0,1501.8 L684.0,1501.8 L685.0,1501.8 L686.0,1501.8 L687.0,1501.8 L688.0,1501.8 L689.0,1501.8 L690.0,1501.8 L691.0,1501.8 L692.0,1501.8 L693.0,1501.8 L694.0,1501.8 L695.0,1501.8 L696.0,1501.8 L697.0,1501.8 L698.0,1501.8 L699.0,1501.8 L700.0,1501.8 L701.0,1501.8 L702.0,1501.8 L703.0,1501.8 L704.0,1501.8 L705.0,1501.8 L706.0,1501.8 L707.0,1501.8 L708.0,1501.8 L709.0,1501.8 L710.0,1501.8 L711.0,1501.8 L712.0,1501.8 L713.0,1501.8 L714.0,1501.8 L715.0,1501.8 L716.0,1501.8 L717.0,1501.8 L718.0,1501.8 L719.0,1501.8 L720.0,1501.8 L721.0,1501.8 L722.0,1501.8 L723.0,1501.8 L724.0,1501.8 L725.0,1501.8 L726.0,1501.8 L727.0,1501.8 L728.0,1501.8 L729.0,1501.8 L730.0,1501.8 L731.0,1501.8 L732.0,1501.8 L733.0,1501.8 L734.0,1501.8 L735.0,1501.8 L736.0,1501.8 L737.0,1501.8 L738.0,1501.8 L739.0,1501.8 L740.0,1501.8 L741.0,1501.8 L742.0,1501.8 L743.0,1501.8 L744.0,1501.8 L745.0,1501.8 L746.0,1501.8 L747.0,1501.8 L748.0,1501.8 L749.0,1501.8 L750.0,1501.8 L751.0,1501.8 L752.0,1501.8 L753.0,1501.8 L754.0,1501.8 L755.0,1501.8 L756.0,1501.8 L757.0,1501.8 L758.0,1501.8 L759.0,1501.8 L760.0,1501.8 L761.0,1501.8 L762.0,1501.8 L763.0,1501.8 L764.0,1501.8 L765.0,1501.8 L766.0,1501.8 L767.0,1501.8 L768.0,1501.8 L769.0,1501.8 L770.0,1501.8 L771.0,1501.8 L772.0,1501.8 L773.0,1501.8 L774.0,1501.8 L775.0,1501.8 L776.0,1501.8 L777.0,1501.8 L778.0,1501.8 L779.0,1501.8 L780.0,1501.8 L781.0,1501.8 L782.0,1501.8 L783.0,1501.8 L784.0,1501.8 L785.0,1501.8 L786.0,1501.8 L787.0,1501.8 L788.0,1501.8 L789.0,1501.8 L790.0,1501.8 L791.0,1501.8 L792.0,1501.8 L793.0,1501.8 L794.0,1501.8 L795.0,1501.8 L796.0,1501.8 L797.0,1501.8 L798.0,1501.8 L799.0,1501.8 L800.0,1501.7 L801.0,1501.7 L802.0,1501.7 L803.0,1501.7 L804.0,1501.7 L805.0,1501.7 L806.0,1501.7 L807.0,1501.7 L808.0,1501.7 L809.0,1501.7 L810.0,1501.7 L811.0,1501.6 L812.0,1501.6 L813.0,1501.6 L814.0,1501.6 L815.0,1501.6 L816.0,1501.6 L817.0,1501.5 L818.0,1501.5 L819.0,1501.5 L820.0,1501.5 L821.0,1501.4 L822.0,1501.4 L823.0,1501.4 L824.0,1501.3 L825.0,1501.3 L826.0,1501.3 L827.0,1501.2 L828.0,1501.2 L829.0,1501.1 L830.0,1501.1 L831.0,1501.0 L832.0,1500.9 L833.0,1500.9 L834.0,1500.8 L835.0,1500.7 L836.0,1500.7 L837.0,1500.6 L838.0,1500.5 L839.0,1500.4 L840.0,1500.3 L841.0,1500.2 L842.0,1500.1 L843.0,1500.0 L844.0,1499.9 L845.0,1499.8 L846.0,1499.7 L847.0,1499.5 L848.0,1499.4 L849.0,1499.2 L850.0,1499.1 L851.0,1498.9 L852.0,1498.7 L853.0,1498.5 L854.0,1498.3 L855.0,1498.0 L856.0,1497.8 L857.0,1497.5 L858.0,1497.1 L859.0,1496.7 L860.0,1496.3 L861.0,1495.8 L862.0,1495.2 L863.0,1494.5 L864.0,1493.7 L865.0,1492.8 L866.0,1491.7 L867.0,1490.4 L868.0,1488.9 L869.0,1487.2 L870.0,1485.1 L871.0,1482.8 L872.0,1480.0 L873.0,1476.9 L874.0,1473.3 L875.0,1469.2 L876.0,1464.5 L877.0,1459.3 L878.0,1453.4 L879.0,1446.8 L880.0,1439.5 L881.0,1431.5 L882.0,1422.8 L883.0,1413.3 L884.0,1403.1 L885.0,1392.2 L886.0,1380.6 L887.0,1368.4 L888.0,1355.6 L889.0,1342.4 L890.0,1328.9 L891.0,1315.2 L892.0,1301.4 L893.0,1287.6 L894.0,1274.2 L895.0,1261.1 L896.0,1248.6 L897.0,1236.9 L898.0,1226.1 L899.0,1216.3 L900.0,1207.9 L901.0,1200.7 L902.0,1195.1 L903.0,1191.0 L904.0,1188.6 L905.0,1187.8 L906.0,1188.5 L907.0,1190.3 L908.0,1193.4 L909.0,1197.6 L910.0,1203.0 L911.0,1209.4 L912.0,1216.7 L913.0,1225.0 L914.0,1234.0 L915.0,1243.7 L916.0,1254.0 L917.0,1264.8 L918.0,1276.0 L919.0,1287.4 L920.0,1299.0 L921.0,1310.6 L922.0,1322.3 L923.0,1333.8 L924.0,1345.1 L925.0,1356.1 L926.0,1366.8 L927.0,1377.1 L928.0,1386.9 L929.0,1396.3 L930.0,1405.2 L931.0,1413.5 L932.0,1421.3 L933.0,1428.6 L934.0,1435.3 L935.0,1441.5 L936.0,1447.2 L937.0,1452.4 L938.0,1457.1 L939.0,1461.4 L940.0,1465.2 L941.0,1468.7 L942.0,1471.7 L943.0,1474.4 L944.0,1476.8 L945.0,1479.0 L946.0,1480.8 L947.0,1482.4 L948.0,1483.9 L949.0,1485.1 L950.0,1486.2 L951.0,1487.1 L952.0,1487.9 L953.0,1488.6 L954.0,1489.2 L955.0,1489.7 L956.0,1490.1 L957.0,1490.5 L958.0,1490.8 L959.0,1491.1 L960.0,1491.3 L961.0,1491.5 L962.0,1491.7 L963.0,1491.9 L964.0,1492.0 L965.0,1492.1 L966.0,1492.2 L967.0,1492.2 L968.0,1492.3 L969.0,1492.3 L970.0,1492.3 L971.0,1492.2 L972.0,1492.2 L973.0,1492.1 L974.0,1492.0 L975.0,1491.8 L976.0,1491.6 L977.0,1491.3 L978.0,1491.0 L979.0,1490.6 L980.0,1490.0 L981.0,1489.4 L982.0,1488.6 L983.0,1487.6 L984.0,1486.4 L985.0,1485.0 L986.0,1483.3 L987.0,1481.3 L988.0,1479.0 L989.0,1476.3 L990.0,1473.1 L991.0,1469.3 L992.0,1465.1 L993.0,1460.2 L994.0,1454.6 L995.0,1448.2 L996.0,1441.1 L997.0,1433.1 L998.0,1424.1 L999.0,1414.3 L1000.0,1403.4 L1001.0,1391.5 L1002.0,1378.5 L1003.0,1364.6 L1004.0,1349.6 L1005.0,1333.6 L1006.0,1316.7 L1007.0,1298.9 L1008.0,1280.4 L1009.0,1261.1 L1010.0,1241.4 L1011.0,1221.3 L1012.0,1201.0 L1013.0,1180.6 L1014.0,1160.4 L1015.0,1140.6 L1016.0,1121.5 L1017.0,1103.1 L1018.0,1085.7 L1019.0,1069.5 L1020.0,1054.8 L1021.0,1041.7 L1022.0,1030.3 L1023.0,1020.8 L1024.0,1013.3 L1025.0,1007.8 L1026.0,1004.5 L1027.0,1003.4 L1028.0,1004.5 L1029.0,1007.8 L1030.0,1013.2 L1031.0,1020.6 L1032.0,1029.9 L1033.0,1040.9 L1034.0,1053.5 L1035.0,1067.4 L1036.0,1082.4 L1037.0,1098.5 L1038.0,1115.2 L1039.0,1132.6 L1040.0,1150.3 L1041.0,1168.1 L1042.0,1186.0 L1043.0,1203.8 L1044.0,1221.3 L1045.0,1238.4 L1046.0,1255.0 L1047.0,1271.0 L1048.0,1286.4 L1049.0,1301.1 L1050.0,1315.0 L1051.0,1328.0 L1052.0,1340.0 L1053.0,1351.2 L1054.0,1361.4 L1055.0,1370.8 L1056.0,1379.4 L1057.0,1387.3 L1058.0,1394.4 L1059.0,1400.9 L1060.0,1406.8 L1061.0,1412.2 L1062.0,1417.1 L1063.0,1421.6 L1064.0,1425.7 L1065.0,1429.5 L1066.0,1433.0 L1067.0,1436.2 L1068.0,1439.2 L1069.0,1442.0 L1070.0,1444.7 L1071.0,1447.2 L1072.0,1449.5 L1073.0,1451.8 L1074.0,1453.9 L1075.0,1455.9 L1076.0,1457.9 L1077.0,1459.8 L1078.0,1461.5 L1079.0,1463.2 L1080.0,1464.9 L1081.0,1466.5 L1082.0,1468.0 L1083.0,1469.4 L1084.0,1470.7 L1085.0,1472.0 L1086.0,1473.3 L1087.0,1474.5 L1088.0,1475.6 L1089.0,1476.6 L1090.0,1477.6 L1091.0,1478.5 L1092.0,1479.4 L1093.0,1480.2 L1094.0,1481.0 L1095.0,1481.8 L1096.0,1482.4 L1097.0,1483.1 L1098.0,1483.7 L1099.0,1484.2 L1100.0,1484.7 L1101.0,1485.2 L1102.0,1485.7 L1103.0,1486.1 L1104.0,1486.4 L1105.0,1486.8 L1106.0,1487.1 L1107.0,1487.4 L1108.0,1487.7 L1109.0,1488.0 L1110.0,1488.3 L1111.0,1488.5 L1112.0,1488.7 L1113.0,1488.9 L1114.0,1489.1 L1115.0,1489.3 L1116.0,1489.5 L1117.0,1489.7 L1118.0,1489.9 L1119.0,1490.1 L1120.0,1490.3 L1121.0,1490.4 L1122.0,1490.6 L1123.0,1490.8 L1124.0,1490.9 L1125.0,1491.1 L1126.0,1491.3 L1127.0,1491.4 L1128.0,1491.6 L1129.0,1491.7 L1130.0,1491.9 L1131.0,1492.1 L1132.0,1492.2 L1133.0,1492.4 L1134.0,1492.6 L1135.0,1492.7 L1136.0,1492.9 L1137.0,1493.1 L1138.0,1493.2 L1139.0,1493.4 L1140.0,1493.6 L1141.0,1493.7 L1142.0,1493.9 L1143.0,1494.1 L1144.0,1494.2 L1145.0,1494.4 L1146.0,1494.6 L1147.0,1494.7 L1148.0,1494.9 L1149.0,1495.0 L1150.0,1495.2 L1151.0,1495.4 L1152.0,1495.5 L1153.0,1495.7 L1154.0,1495.8 L1155.0,1496.0 L1156.0,1496.2 L1157.0,1496.3 L1158.0,1496.5 L1159.0,1496.6 L1160.0,1496.8 L1161.0,1496.9 L1162.0,1497.0 L1163.0,1497.2 L1164.0,1497.3 L1165.0,1497.5 L1166.0,1497.6 L1167.0,1497.7 L1168.0,1497.8 L1169.0,1498.0 L1170.0,1498.1 L1171.0,1498.2 L1172.0,1498.3 L1173.0,1498.5 L1174.0,1498.6 L1175.0,1498.7 L1176.0,1498.8 L1177.0,1498.9 L1178.0,1499.0 L1179.0,1499.1 L1180.0,1499.2 L1181.0,1499.3 L1182.0,1499.4 L1183.0,1499.5 L1184.0,1499.5 L1185.0,1499.6 L1186.0,1499.7 L1187.0,1499.8 L1188.0,1499.8 L1189.0,1499.9 L1190.0,1500.0 L1191.0,1500.0 L1192.0,1500.1 L1193.0,1500.1 L1194.0,1500.2 L1195.0,1500.2 L1196.0,1500.3 L1197.0,1500.3 L1198.0,1500.3 L1199.0,1500.3 L1200.0,1500.4 L1201.0,1500.3 L1202.0,1500.3 L1203.0,1500.3 L1204.0,1500.2 L1205.0,1500.2 L1206.0,1500.1 L1207.0,1499.9 L1208.0,1499.8 L1209.0,1499.5 L1210.0,1499.3 L1211.0,1498.9 L1212.0,1498.5 L1213.0,1497.9 L1214.0,1497.2 L1215.0,1496.4 L1216.0,1495.4 L1217.0,1494.3 L1218.0,1492.9 L1219.0,1491.2 L1220.0,1489.2 L1221.0,1486.9 L1222.0,1484.3 L1223.0,1481.2 L1224.0,1477.6 L1225.0,1473.6 L1226.0,1469.0 L1227.0,1463.8 L1228.0,1458.0 L1229.0,1451.5 L1230.0,1444.4 L1231.0,1436.6 L1232.0,1428.0 L1233.0,1418.8 L1234.0,1408.9 L1235.0,1398.4 L1236.0,1387.3 L1237.0,1375.6 L1238.0,1363.5 L1239.0,1351.0 L1240.0,1338.2 L1241.0,1325.3 L1242.0,1312.4 L1243.0,1299.7 L1244.0,1287.3 L1245.0,1275.3 L1246.0,1263.9 L1247.0,1253.3 L1248.0,1243.6 L1249.0,1235.1 L1250.0,1227.7 L1251.0,1221.6 L1252.0,1216.9 L1253.0,1213.7 L1254.0,1212.1 L1255.0,1211.9 L1256.0,1212.8 L1257.0,1214.6 L1258.0,1217.4 L1259.0,1221.0 L1260.0,1225.4 L1261.0,1230.7 L1262.0,1236.7 L1263.0,1243.5 L1264.0,1250.8 L1265.0,1258.8 L1266.0,1267.2 L1267.0,1276.1 L1268.0,1285.3 L1269.0,1294.9 L1270.0,1304.6 L1271.0,1314.5 L1272.0,1324.4 L1273.0,1334.4 L1274.0,1344.2 L1275.0,1354.0 L1276.0,1363.6 L1277.0,1373.0 L1278.0,1382.1 L1279.0,1390.9 L1280.0,1399.4 L1281.0,1407.5 L1282.0,1415.2 L1283.0,1422.5 L1284.0,1429.4 L1285.0,1435.9 L1286.0,1442.0 L1287.0,1447.7 L1288.0,1453.0 L1289.0,1457.9 L1290.0,1462.3 L1291.0,1466.5 L1292.0,1470.2 L1293.0,1473.6 L1294.0,1476.7 L1295.0,1479.6 L1296.0,1482.1 L1297.0,1484.4 L1298.0,1486.4 L1299.0,1488.2 L1300.0,1489.8 L1301.0,1491.2 L1302.0,1492.5 L1303.0,1493.6 L1304.0,1494.6 L1305.0,1495.4 L1306.0,1496.2 L1307.0,1496.8 L1308.0,1497.4 L1309.0,1497.9 L1310.0,1498.3 L1311.0,1498.7 L1312.0,1499.0 L1313.0,1499.3 L1314.0,1499.6 L1315.0,1499.8 L1316.0,1500.0 L1317.0,1500.1 L1318.0,1500.3 L1319.0,1500.4 L1320.0,1500.5 L1321.0,1500.6 L1322.0,1500.7 L1323.0,1500.8 L1324.0,1500.8 L1325.0,1500.9 L1326.0,1501.0 L1327.0,1501.0 L1328.0,1501.1 L1329.0,1501.1 L1330.0,1501.2 L1331.0,1501.2 L1332.0,1501.2 L1333.0,1501.3 L1334.0,1501.3 L1335.0,1501.3 L1336.0,1501.4 L1337.0,1501.4 L1338.0,1501.4 L1339.0,1501.4 L1340.0,1501.5 L1341.0,1501.5 L1342.0,1501.5 L1343.0,1501.5 L1344.0,1501.5 L1345.0,1501.6 L1346.0,1501.6 L1347.0,1501.6 L1348.0,1501.6 L1349.0,1501.6 L1350.0,1501.6 L1351.0,1501.6 L1352.0,1501.7 L1353.0,1501.7 L1354.0,1501.7 L1355.0,1501.7 L1356.0,1501.7 L1357.0,1501.7 L1358.0,1501.7 L1359.0,1501.7 L1360.0,1501.7 L1361.0,1501.7 L1362.0,1501.7 L1363.0,1501.7 L1364.0,1501.7 L1365.0,1501.7 L1366.0,1501.8 L1367.0,1501.8 L1368.0,1501.8 L1369.0,1501.8 L1370.0,1501.8 L1371.0,1501.8 L1372.0,1501.8 L1373.0,1501.8 L1374.0,1501.8 L1375.0,1501.8 L1376.0,1501.8 L1377.0,1501.8 L1378.0,1501.8 L1379.0,1501.8 L1380.0,1501.8 L1381.0,1501.8 L1382.0,1501.8 L1383.0,1501.8 L1384.0,1501.8 L1385.0,1501.8 L1386.0,1501.8 L1387.0,1501.8 L1388.0,1501.8 L1389.0,1501.8 L1390.0,1501.8 L1391.0,1501.8 L1392.0,1501.8 L1393.0,1501.8 L1394.0,1501.8 L1395.0,1501.8 L1396.0,1501.8 L1397.0,1501.8 L1398.0,1501.8 L1399.0,1501.8 L1400.0,1501.8 L1401.0,1501.8 L1402.0,1501.8 L1403.0,1501.8 L1404.0,1501.8 L1405.0,1501.8 L1406.0,1501.8 L1407.0,1501.8 L1408.0,1501.8 L1409.0,1501.8 L1410.0,1501.8 L1411.0,1501.8 L1412.0,1501.8 L1413.0,1501.8 L1414.0,1501.8 L1415.0,1501.8 L1416.0,1501.8 L1417.0,1501.8 L1418.0,1501.8 L1419.0,1501.8 L1420.0,1501.8 L1421.0,1501.8 L1422.0,1501.8 L1423.0,1501.8 L1424.0,1501.8 L1425.0,1501.8 L1426.0,1501.8 L1427.0,1501.8 L1428.0,1501.8 L1429.0,1501.8 L1430.0,1501.8 L1431.0,1501.8 L1432.0,1501.8 L1433.0,1501.8 L1434.0,1501.8 L1435.0,1501.8 L1436.0,1501.8 L1437.0,1501.8 L1438.0,1501.8 L1439.0,1501.8 L1440.0,1501.8 L1441.0,1501.8 L1442.0,1501.8 L1443.0,1501.8 L1444.0,1501.8 L1445.0,1501.8 L1446.0,1501.8 L1447.0,1501.8 L1448.0,1501.8 L1449.0,1501.8 L1450.0,1501.8 L1451.0,1501.8 L1452.0,1501.8 L1453.0,1501.8 L1454.0,1501.8 L1455.0,1501.8 L1456.0,1501.8 L1457.0,1501.8 L1458.0,1501.8 L1459.0,1501.8 L1460.0,1501.8 L1461.0,1501.8 L1462.0,1501.8 L1463.0,1501.8 L1464.0,1501.8 L1465.0,1501.8 L1466.0,1501.8 L1467.0,1501.8 L1468.0,1501.8 L1469.0,1501.8 L1470.0,1501.8 L1471.0,1501.8 L1472.0,1501.8 L1473.0,1501.8 L1474.0,1501.8 L1475.0,1501.8 L1476.0,1501.8 L1477.0,1501.8 L1478.0,1501.8 L1479.0,1501.8 L1480.0,1501.8 L1481.0,1501.8 L1482.0,1501.8 L1483.0,1501.8 L1484.0,1501.8 L1485.0,1501.8 L1486.0,1501.8 L1487.0,1501.8 L1488.0,1501.8 L1489.0,1501.8 L1490.0,1501.8 L1491.0,1501.8 L1492.0,1501.8 L1493.0,1501.8 L1494.0,1501.8 L1495.0,1501.8 L1496.0,1501.8 L1497.0,1501.8 L1498.0,1501.8 L1499.0,1501.8 L1500.0,1501.8 L1501.0,1501.8 L1502.0,1501.8 L1503.0,1501.8 L1504.0,1501.8 L1505.0,1501.8 L1506.0,1501.8 L1507.0,1501.8 L1508.0,1501.8 L1509.0,1501.8 L1510.0,1501.8 L1511.0,1501.7 L1512.0,1501.7 L1513.0,1501.7 L1514.0,1501.7 L1515.0,1501.7 L1516.0,1501.7 L1517.0,1501.6 L1518.0,1501.6 L1519.0,1501.5 L1520.0,1501.5 L1521.0,1501.4 L1522.0,1501.3 L1523.0,1501.2 L1524.0,1501.1 L1525.0,1501.0 L1526.0,1500.9 L1527.0,1500.7 L1528.0,1500.5 L1529.0,1500.3 L1530.0,1500.0 L1531.0,1499.7 L1532.0,1499.4 L1533.0,1499.0 L1534.0,1498.6 L1535.0,1498.1 L1536.0,1497.6 L1537.0,1497.0 L1538.0,1496.4 L1539.0,1495.7 L1540.0,1494.9 L1541.0,1494.0 L1542.0,1493.1 L1543.0,1492.1 L1544.0,1491.0 L1545.0,1489.8 L1546.0,1488.5 L1547.0,1487.2 L1548.0,1485.8 L1549.0,1484.3 L1550.0,1482.7 L1551.0,1481.1 L1552.0,1479.4 L1553.0,1477.6 L1554.0,1475.8 L1555.0,1474.0 L1556.0,1472.1 L1557.0,1470.2 L1558.0,1468.3 L1559.0,1466.5 L1560.0,1464.6 L1561.0,1462.8 L1562.0,1461.0 L1563.0,1459.3 L1564.0,1457.7 L1565.0,1456.2 L1566.0,1454.8 L1567.0,1453.5 L1568.0,1452.3 L1569.0,1451.3 L1570.0,1450.5 L1571.0,1449.8 L1572.0,1449.3 L1573.0,1449.0 L1574.0,1448.8 L1575.0,1448.8 L1576.0,1449.1 L1577.0,1449.5 L1578.0,1450.0 L1579.0,1450.8 L1580.0,1451.7 L1581.0,1452.8 L1582.0,1454.0 L1583.0,1455.3 L1584.0,1456.8 L1585.0,1458.3 L1586.0,1460.0 L1587.0,1461.7 L1588.0,1463.5 L1589.0,1465.3 L1590.0,1467.2 L1591.0,1469.1 L1592.0,1471.0 L1593.0,1472.9 L1594.0,1474.7 L1595.0,1476.5 L1596.0,1478.3 L1597.0,1480.1 L1598.0,1481.7 L1599.0,1483.4 L1600.0,1484.9 L1601.0,1486.4 L1602.0,1487.7 L1603.0,1489.1 L1604.0,1490.3 L1605.0,1491.4 L1606.0,1492.5 L1607.0,1493.5 L1608.0,1494.4 L1609.0,1495.2 L1610.0,1496.0 L1611.0,1496.6 L1612.0,1497.3 L1613.0,1497.8 L1614.0,1498.3 L1615.0,1498.8 L1616.0,1499.2 L1617.0,1499.5 L1618.0,1499.9 L1619.0,1500.1 L1620.0,1500.4 L1621.0,1500.6 L1622.0,1500.8 L1623.0,1500.9 L1624.0,1501.1 L1625.0,1501.2 L1626.0,1501.3 L1627.0,1501.4 L1628.0,1501.4 L1629.0,1501.5 L1630.0,1501.6 L1631.0,1501.6 L1632.0,1501.6 L1633.0,1501.7 L1634.0,1501.7 L1635.0,1501.7 L1636.0,1501.7 L1637.0,1501.7 L1638.0,1501.8 L1639.0,1501.8 L1640.0,1501.8 L1641.0,1501.8 L1642.0,1501.8 L1643.0,1501.8 L1644.0,1501.8 L1645.0,1501.8 L1646.0,1501.8 L1647.0,1501.8 L1648.0,1501.8 L1649.0,1501.8 L1650.0,1501.8 L1651.0,1501.8 L1652.0,1501.8 L1653.0,1501.8 L1654.0,1501.8 L1655.0,1501.8 L1656.0,1501.8 L1657.0,1501.8 L1658.0,1501.8 L1659.0,1501.8 L1660.0,1501.8 L1661.0,1501.8 L1662.0,1501.8 L1663.0,1501.8 L1664.0,1501.8 L1665.0,1501.8 L1666.0,1501.8 L1667.0,1501.8 L1668.0,1501.8 L1669.0,1501.8 L1670.0,1501.8 L1671.0,1501.8 L1672.0,1501.8 L1673.0,1501.8 L1674.0,1501.8 L1675.0,1501.8 L1676.0,1501.8 L1677.0,1501.8 L1678.0,1501.8 L1679.0,1501.8 L1680.0,1501.8 L1681.0,1501.8 L1682.0,1501.8 L1683.0,1501.8 L1684.0,1501.8 L1685.0,1501.8 L1686.0,1501.8 L1687.0,1501.8 L1688.0,1501.8 L1689.0,1501.8 L1690.0,1501.8 L1691.0,1501.8 L1692.0,1501.8 L1693.0,1501.8 L1694.0,1501.8 L1695.0,1501.8 L1696.0,1501.8 L1697.0,1501.8 L1698.0,1501.8 L1699.0,1501.8 L1700.0,1501.8 L1701.0,1501.8 L1702.0,1501.8 L1703.0,1501.8 L1704.0,1501.8 L1705.0,1501.8 L1706.0,1501.8 L1707.0,1501.8 L1708.0,1501.8 L1709.0,1501.8 L1710.0,1501.8 L1711.0,1501.8 L1712.0,1501.8 L1713.0,1501.8 L1714.0,1501.8 L1715.0,1501.8 L1716.0,1501.8 L1717.0,1501.8 L1718.0,1501.8 L1719.0,1501.8 L1720.0,1501.8 L1721.0,1501.8 L1722.0,1501.8 L1723.0,1501.8 L1724.0,1501.8 L1725.0,1501.8 L1726.0,1501.8 L1727.0,1501.8 L1728.0,1501.8 L1729.0,1501.8 L1730.0,1501.8 L1731.0,1501.8 L1732.0,1501.8 L1733.0,1501.8 L1734.0,1501.8 L1735.0,1501.8 L1736.0,1501.8 L1737.0,1501.8 L1738.0,1501.8 L1739.0,1501.8 L1740.0,1501.8 L1741.0,1501.8 L1742.0,1501.8 L1743.0,1501.8 L1744.0,1501.8 L1745.0,1501.8 L1746.0,1501.8 L1747.0,1501.8 L1748.0,1501.8 L1749.0,1501.8 L1750.0,1501.8 L1751.0,1501.8 L1752.0,1501.8 L1753.0,1501.8 L1754.0,1501.8 L1755.0,1501.8 L1756.0,1501.8 L1757.0,1501.8 L1758.0,1501.8 L1759.0,1501.8 L1760.0,1501.8 L1761.0,1501.8 L1762.0,1501.8 L1763.0,1501.8 L1764.0,1501.8 L1765.0,1501.8 L1766.0,1501.8 L1767.0,1501.8 L1768.0,1501.8 L1769.0,1501.8 L1770.0,1501.8 L1771.0,1501.8 L1772.0,1501.8 L1773.0,1501.8 L1774.0,1501.7 L1775.0,1501.7 L1776.0,1501.7 L1777.0,1501.7 L1778.0,1501.7 L1779.0,1501.7 L1780.0,1501.7 L1781.0,1501.7 L1782.0,1501.6 L1783.0,1501.6 L1784.0,1501.6 L1785.0,1501.6 L1786.0,1501.5 L1787.0,1501.5 L1788.0,1501.5 L1789.0,1501.4 L1790.0,1501.4 L1791.0,1501.3 L1792.0,1501.3 L1793.0,1501.2 L1794.0,1501.2 L1795.0,1501.1 L1796.0,1501.0 L1797.0,1500.9 L1798.0,1500.8 L1799.0,1500.7 L1800.0,1500.5 L1801.0,1500.4 L1802.0,1500.2 L1803.0,1500.0 L1804.0,1499.8 L1805.0,1499.5 L1806.0,1499.2 L1807.0,1498.9 L1808.0,1498.5 L1809.0,1498.0 L1810.0,1497.5 L1811.0,1496.8 L1812.0,1496.1 L1813.0,1495.3 L1814.0,1494.3 L1815.0,1493.2 L1816.0,1491.9 L1817.0,1490.3 L1818.0,1488.6 L1819.0,1486.6 L1820.0,1484.4 L1821.0,1481.8 L1822.0,1478.9 L1823.0,1475.6 L1824.0,1471.9 L1825.0,1467.8 L1826.0,1463.2 L1827.0,1458.1 L1828.0,1452.5 L1829.0,1446.4 L1830.0,1439.7 L1831.0,1432.5 L1832.0,1424.8 L1833.0,1416.5 L1834.0,1407.7 L1835.0,1398.5 L1836.0,1388.9 L1837.0,1378.9 L1838.0,1368.5 L1839.0,1358.0 L1840.0,1347.3 L1841.0,1336.6 L1842.0,1325.9 L1843.0,1315.5 L1844.0,1305.3 L1845.0,1295.5 L1846.0,1286.2 L1847.0,1277.6 L1848.0,1269.8 L1849.0,1262.8 L1850.0,1256.7 L1851.0,1251.7 L1852.0,1247.8 L1853.0,1245.0 L1854.0,1243.4 L1855.0,1243.0 L1856.0,1243.5 L1857.0,1244.8 L1858.0,1247.0 L1859.0,1249.9 L1860.0,1253.5 L1861.0,1257.9 L1862.0,1262.8 L1863.0,1268.4 L1864.0,1274.4 L1865.0,1280.9 L1866.0,1287.8 L1867.0,1295.0 L1868.0,1302.4 L1869.0,1309.9 L1870.0,1317.6 L1871.0,1325.2 L1872.0,1332.7 L1873.0,1340.1 L1874.0,1347.3 L1875.0,1354.2 L1876.0,1360.7 L1877.0,1366.9 L1878.0,1372.5 L1879.0,1377.7 L1880.0,1382.2 L1881.0,1386.2 L1882.0,1389.6 L1883.0,1392.3 L1884.0,1394.3 L1885.0,1395.6 L1886.0,1396.2 L1887.0,1396.2 L1888.0,1395.4 L1889.0,1394.0 L1890.0,1391.8 L1891.0,1389.1 L1892.0,1385.7 L1893.0,1381.7 L1894.0,1377.3 L1895.0,1372.3 L1896.0,1366.9 L1897.0,1361.1 L1898.0,1355.0 L1899.0,1348.7 L1900.0,1342.2 L1901.0,1335.6 L1902.0,1328.9 L1903.0,1322.3 L1904.0,1315.9 L1905.0,1309.7 L1906.0,1303.7 L1907.0,1298.1 L1908.0,1292.9 L1909.0,1288.2 L1910.0,1284.1 L1911.0,1280.6 L1912.0,1277.7 L1913.0,1275.5 L1914.0,1274.1 L1915.0,1273.4 L1916.0,1273.4 L1917.0,1274.1 L1918.0,1275.3 L1919.0,1277.1 L1920.0,1279.5 L1921.0,1282.4 L1922.0,1285.8 L1923.0,1289.6 L1924.0,1294.0 L1925.0,1298.7 L1926.0,1303.9 L1927.0,1309.4 L1928.0,1315.3 L1929.0,1321.4 L1930.0,1327.7 L1931.0,1334.3 L1932.0,1341.0 L1933.0,1347.8 L1934.0,1354.7 L1935.0,1361.7 L1936.0,1368.6 L1937.0,1375.5 L1938.0,1382.3 L1939.0,1389.1 L1940.0,1395.7 L1941.0,1402.1 L1942.0,1408.4 L1943.0,1414.5 L1944.0,1420.3 L1945.0,1426.0 L1946.0,1431.4 L1947.0,1436.5 L1948.0,1441.4 L1949.0,1446.0 L1950.0,1450.4 L1951.0,1454.5 L1952.0,1458.4 L1953.0,1462.0 L1954.0,1465.3 L1955.0,1468.5 L1956.0,1471.4 L1957.0,1474.0 L1958.0,1476.5 L1959.0,1478.8 L1960.0,1480.8 L1961.0,1482.7 L1962.0,1484.4 L1963.0,1486.0 L1964.0,1487.4 L1965.0,1488.7 L1966.0,1489.9 L1967.0,1490.9 L1968.0,1491.8 L1969.0,1492.7 L1970.0,1493.4 L1971.0,1494.1 L1972.0,1494.7 L1973.0,1495.2 L1974.0,1495.7 L1975.0,1496.1 L1976.0,1496.5 L1977.0,1496.8 L1978.0,1497.1 L1979.0,1497.3 L1980.0,1497.5 L1981.0,1497.7 L1982.0,1497.9 L1983.0,1498.0 L1984.0,1498.1 L1985.0,1498.2 L1986.0,1498.3 L1987.0,1498.3 L1988.0,1498.4 L1989.0,1498.4 L1990.0,1498.4 L1991.0,1498.4 L1992.0,1498.3 L1993.0,1498.3 L1994.0,1498.2 L1995.0,1498.1 L1996.0,1498.0 L1997.0,1497.9 L1998.0,1497.8 L1999.0,1497.6 L2000.0,1497.4 L2001.0,1497.2 L2002.0,1496.9 L2003.0,1496.6 L2004.0,1496.2 L2005.0,1495.8 L2006.0,1495.4 L2007.0,1494.9 L2008.0,1494.3 L2009.0,1493.6 L2010.0,1492.9 L2011.0,1492.1 L2012.0,1491.2 L2013.0,1490.1 L2014.0,1489.0 L2015.0,1487.7 L2016.0,1486.3 L2017.0,1484.7 L2018.0,1482.9 L2019.0,1481.0 L2020.0,1478.9 L2021.0,1476.6 L2022.0,1474.0 L2023.0,1471.3 L2024.0,1468.3 L2025.0,1465.1 L2026.0,1461.6 L2027.0,1457.9 L2028.0,1454.0 L2029.0,1449.8 L2030.0,1445.4 L2031.0,1440.7 L2032.0,1435.8 L2033.0,1430.6 L2034.0,1425.3 L2035.0,1419.8 L2036.0,1414.1 L2037.0,1408.2 L2038.0,1402.3 L2039.0,1396.3 L2040.0,1390.2 L2041.0,1384.1 L2042.0,1378.1 L2043.0,1372.1 L2044.0,1366.2 L2045.0,1360.5 L2046.0,1355.0 L2047.0,1349.8 L2048.0,1344.8 L2049.0,1340.2 L2050.0,1335.9 L2051.0,1332.1 L2052.0,1328.7 L2053.0,1325.8 L2054.0,1323.4 L2055.0,1321.5 L2056.0,1320.2 L2057.0,1319.4 L2058.0,1319.2 L2059.0,1319.5 L2060.0,1320.5 L2061.0,1322.1 L2062.0,1324.2 L2063.0,1326.8 L2064.0,1330.0 L2065.0,1333.7 L2066.0,1337.8 L2067.0,1342.3 L2068.0,1347.3 L2069.0,1352.5 L2070.0,1358.0 L2071.0,1363.7 L2072.0,1369.7 L2073.0,1375.7 L2074.0,1381.9 L2075.0,1388.1 L2076.0,1394.3 L2077.0,1400.5 L2078.0,1406.5 L2079.0,1412.5 L2080.0,1418.3 L2081.0,1424.0 L2082.0,1429.5 L2083.0,1434.7 L2084.0,1439.8 L2085.0,1444.6 L2086.0,1449.1 L2087.0,1453.4 L2088.0,1457.4 L2089.0,1461.2 L2090.0,1464.7 L2091.0,1467.9 L2092.0,1470.9 L2093.0,1473.7 L2094.0,1476.3 L2095.0,1478.6 L2096.0,1480.7 L2097.0,1482.7 L2098.0,1484.4 L2099.0,1486.0 L2100.0,1487.4 L2101.0,1488.7 L2102.0,1489.9 L2103.0,1490.9 L2104.0,1491.9 L2105.0,1492.7 L2106.0,1493.5 L2107.0,1494.1 L2108.0,1494.7 L2109.0,1495.3 L2110.0,1495.8 L2111.0,1496.2 L2112.0,1496.6 L2113.0,1497.0 L2114.0,1497.3 L2115.0,1497.6 L2116.0,1497.8 L2117.0,1498.1 L2118.0,1498.3 L2119.0,1498.5 L2120.0,1498.7 L2121.0,1498.9 L2122.0,1499.0 L2123.0,1499.2 L2124.0,1499.3 L2125.0,1499.4 L2126.0,1499.6 L2127.0,1499.7 L2128.0,1499.8 L2129.0,1499.9 L2130.0,1500.0 L2131.0,1500.0 L2132.0,1500.1 L2133.0,1500.2 L2134.0,1500.3 L2135.0,1500.3 L2136.0,1500.4 L2137.0,1500.4 L2138.0,1500.5 L2139.0,1500.5 L2140.0,1500.6 L2141.0,1500.6 L2142.0,1500.6 L2143.0,1500.7 L2144.0,1500.7 L2145.0,1500.7 L2146.0,1500.7 L2147.0,1500.7 L2148.0,1500.7 L2149.0,1500.7 L2150.0,1500.7 L2151.0,1500.7 L2152.0,1500.6 L2153.0,1500.6 L2154.0,1500.6 L2155.0,1500.5 L2156.0,1500.5 L2157.0,1500.4 L2158.0,1500.4 L2159.0,1500.3 L2160.0,1500.2 L2161.0,1500.1 L2162.0,1500.0 L2163.0,1499.9 L2164.0,1499.8 L2165.0,1499.6 L2166.0,1499.5 L2167.0,1499.3 L2168.0,1499.1 L2169.0,1498.9 L2170.0,1498.6 L2171.0,1498.3 L2172.0,1498.0 L2173.0,1497.7 L2174.0,1497.3 L2175.0,1496.9 L2176.0,1496.4 L2177.0,1495.9 L2178.0,1495.3 L2179.0,1494.6 L2180.0,1493.9 L2181.0,1493.1 L2182.0,1492.2 L2183.0,1491.2 L2184.0,1490.1 L2185.0,1489.0 L2186.0,1487.6 L2187.0,1486.2 L2188.0,1484.7 L2189.0,1483.0 L2190.0,1481.1 L2191.0,1479.1 L2192.0,1476.9 L2193.0,1474.6 L2194.0,1472.1 L2195.0,1469.4 L2196.0,1466.6 L2197.0,1463.5 L2198.0,1460.3 L2199.0,1456.9 L2200.0,1453.3 L2201.0,1449.5 L2202.0,1445.5 L2203.0,1441.4 L2204.0,1437.1 L2205.0,1432.7 L2206.0,1428.2 L2207.0,1423.5 L2208.0,1418.8 L2209.0,1413.9 L2210.0,1409.1 L2211.0,1404.1 L2212.0,1399.2 L2213.0,1394.3 L2214.0,1389.5 L2215.0,1384.7 L2216.0,1380.1 L2217.0,1375.6 L2218.0,1371.3 L2219.0,1367.1 L2220.0,1363.2 L2221.0,1359.6 L2222.0,1356.2 L2223.0,1353.2 L2224.0,1350.5 L2225.0,1348.2 L2226.0,1346.2 L2227.0,1344.6 L2228.0,1343.4 L2229.0,1342.7 L2230.0,1342.3 L2231.0,1342.4 L2232.0,1342.9 L2233.0,1343.8 L2234.0,1345.1 L2235.0,1346.8 L2236.0,1348.9 L2237.0,1351.3 L2238.0,1354.1 L2239.0,1357.2 L2240.0,1360.6 L2241.0,1364.3 L2242.0,1368.2 L2243.0,1372.4 L2244.0,1376.7 L2245.0,1381.2 L2246.0,1385.9 L2247.0,1390.6 L2248.0,1395.4 L2249.0,1400.2 L2250.0,1405.1 L2251.0,1410.0 L2252.0,1414.8 L2253.0,1419.5 L2254.0,1424.2 L2255.0,1428.8 L2256.0,1433.3 L2257.0,1437.6 L2258.0,1441.8 L2259.0,1445.9 L2260.0,1449.7 L2261.0,1453.4 L2262.0,1457.0 L2263.0,1460.3 L2264.0,1463.5 L2265.0,1466.5 L2266.0,1469.3 L2267.0,1472.0 L2268.0,1474.4 L2269.0,1476.7 L2270.0,1478.8 L2271.0,1480.8 L2272.0,1482.6 L2273.0,1484.3 L2274.0,1485.9 L2275.0,1487.3 L2276.0,1488.6 L2277.0,1489.8 L2278.0,1490.8 L2279.0,1491.8 L2280.0,1492.7 L2281.0,1493.5 L2282.0,1494.3 L2283.0,1494.9 L2284.0,1495.5 L2285.0,1496.1 L2286.0,1496.5 L2287.0,1497.0 L2288.0,1497.4 L2289.0,1497.7 L2290.0,1498.1 L2291.0,1498.4 L2292.0,1498.6 L2293.0,1498.9 L2294.0,1499.1 L2295.0,1499.3 L2296.0,1499.5 L2297.0,1499.6 L2298.0,1499.8 L2299.0,1499.9 L2300.0,1500.1 L2301.0,1500.2 L2302.0,1500.3 L2303.0,1500.4 L2304.0,1500.5 L2305.0,1500.6 L2306.0,1500.6 L2307.0,1500.7 L2308.0,1500.8 L2309.0,1500.9 L2310.0,1500.9 L2311.0,1501.0 L2312.0,1501.0 L2313.0,1501.1 L2314.0,1501.1 L2315.0,1501.2 L2316.0,1501.2 L2317.0,1501.3 L2318.0,1501.3 L2319.0,1501.3 L2320.0,1501.4 L2321.0,1501.4 L2322.0,1501.4 L2323.0,1501.4 L2324.0,1501.5 L2325.0,1501.5 L2326.0,1501.5 L2327.0,1501.5 L2328.0,1501.6 L2329.0,1501.6 L2330.0,1501.6 L2331.0,1501.6 L2332.0,1501.6 L2333.0,1501.6 L2334.0,1501.7 L2335.0,1501.7 L2336.0,1501.7 L2337.0,1501.7 L2338.0,1501.7 L2339.0,1501.7 L2340.0,1501.7 L2341.0,1501.7 L2342.0,1501.7 L2343.0,1501.7 L2344.0,1501.7 L2345.0,1501.7 L2346.0,1501.7 L2347.0,1501.8 L2348.0,1501.8 L2349.0,1501.8 L2350.0,1501.8 L2351.0,1501.8 L2352.0,1501.8 L2353.0,1501.8 L2354.0,1501.8 L2355.0,1501.8 L2356.0,1501.8 L2357.0,1501.8 L2358.3,1501.8"/>
</g>
<g font-size="85.0">
<text x="474.2" y="1036.7">1</text>
<text x="891.7" y="1171.9">2</text>
<text x="1061.1" y="1042.1">3</text>
<text x="1266.1" y="1181.4">4</text>
<text x="1567.1" y="1424.2">5</text>
<text x="1831.6" y="1218.0">6</text>
<text x="1908.2" y="1229.6">7</text>
<text x="2042.0" y="1283.7">8</text>
<text x="2230.7" y="1294.0">9</text>
</g>
<g font-size="93.0">
<text x="2275.0" y="1412.2">A</text>
<text x="2276.3" y="940.2">B</text>
<text x="2272.4" y="534.4">C</text>
</g>
</svg></body></html>
